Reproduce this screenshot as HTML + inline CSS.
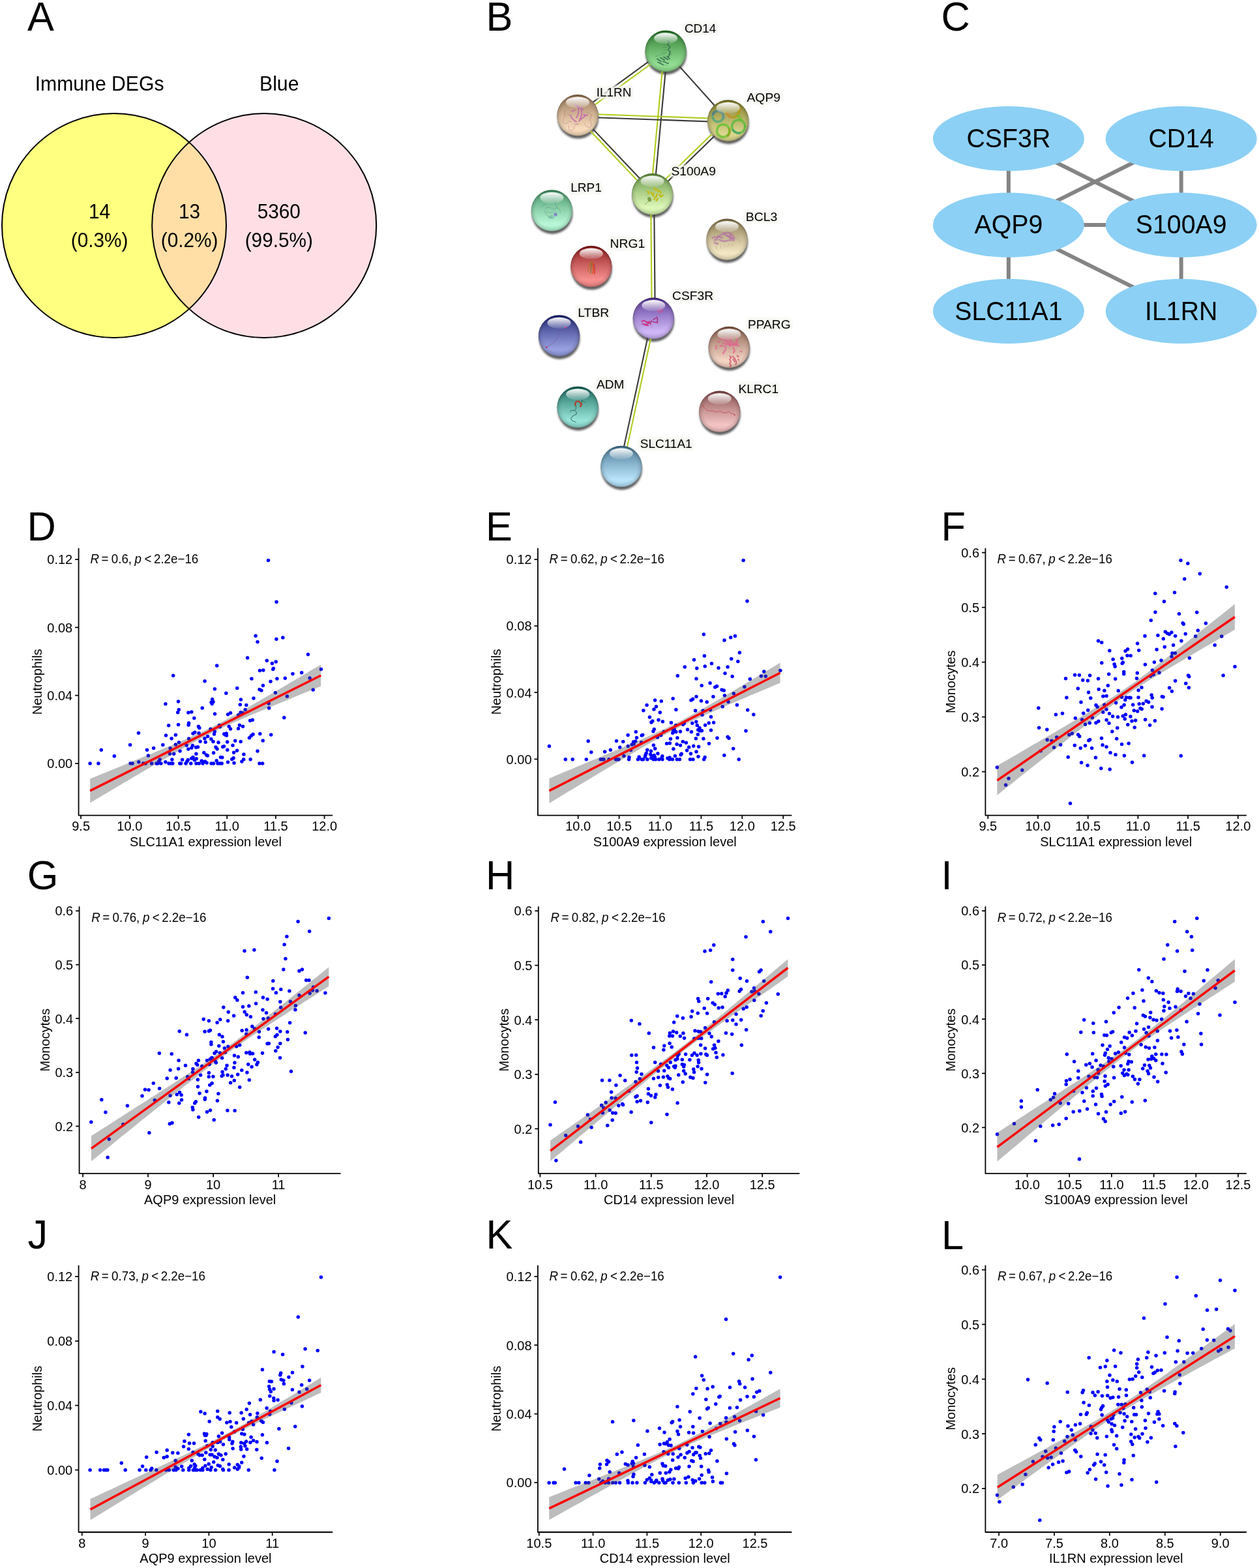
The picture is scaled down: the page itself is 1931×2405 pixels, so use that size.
<!DOCTYPE html>
<html lang="en"><head><meta charset="utf-8"><title>Immune DEGs: Venn diagram, PPI networks and correlation plots</title>
<style>html,body{margin:0;padding:0;background:#fff}body{width:1931px;height:2405px;overflow:hidden}svg{display:block}text{font-family:"Liberation Sans", Arial, Helvetica, sans-serif;fill:#000}</style>
</head><body>
<svg xmlns="http://www.w3.org/2000/svg" width="1931" height="2405" viewBox="0 0 1931 2405">
<rect width="1931" height="2405" fill="#fff"/>
<defs>
<clipPath id="nc"><circle r="30.7"/></clipPath>
<filter id="sh" x="-30%" y="-30%" width="160%" height="160%"><feGaussianBlur stdDeviation="1.7"/></filter>
<filter id="hb" x="-20%" y="-60%" width="140%" height="220%"><feGaussianBlur stdDeviation="2.2"/></filter>
<linearGradient id="hl" x1="0" y1="0" x2="0" y2="1"><stop offset="0" stop-color="#fff" stop-opacity="0.97"/><stop offset="0.25" stop-color="#fff" stop-opacity="0.8"/><stop offset="1" stop-color="#fff" stop-opacity="0.12"/></linearGradient>
<radialGradient id="rim" cx="0.5" cy="0.5" r="0.5"><stop offset="0.78" stop-color="#000" stop-opacity="0"/><stop offset="0.93" stop-color="#000" stop-opacity="0.1"/><stop offset="1" stop-color="#000" stop-opacity="0.26"/></radialGradient>
<linearGradient id="g0" x1="0" y1="0" x2="0" y2="1"><stop offset="0" stop-color="#1f6e22"/><stop offset="0.1" stop-color="#39873b"/><stop offset="0.45" stop-color="#67b468"/><stop offset="0.82" stop-color="#93df93"/><stop offset="1" stop-color="#85d185"/></linearGradient>
<linearGradient id="g1" x1="0" y1="0" x2="0" y2="1"><stop offset="0" stop-color="#8a6848"/><stop offset="0.1" stop-color="#a28262"/><stop offset="0.45" stop-color="#ceb091"/><stop offset="0.82" stop-color="#f8dcbe"/><stop offset="1" stop-color="#ebceb0"/></linearGradient>
<linearGradient id="g2" x1="0" y1="0" x2="0" y2="1"><stop offset="0" stop-color="#76741e"/><stop offset="0.1" stop-color="#8c8a37"/><stop offset="0.45" stop-color="#b5b265"/><stop offset="0.82" stop-color="#dcd890"/><stop offset="1" stop-color="#d0cc82"/></linearGradient>
<linearGradient id="g3" x1="0" y1="0" x2="0" y2="1"><stop offset="0" stop-color="#5a8a3a"/><stop offset="0.1" stop-color="#77a256"/><stop offset="0.45" stop-color="#abce88"/><stop offset="0.82" stop-color="#ddf8b8"/><stop offset="1" stop-color="#cdeba9"/></linearGradient>
<linearGradient id="g4" x1="0" y1="0" x2="0" y2="1"><stop offset="0" stop-color="#3a8a5a"/><stop offset="0.1" stop-color="#56a276"/><stop offset="0.45" stop-color="#88cea8"/><stop offset="0.82" stop-color="#b8f8d8"/><stop offset="1" stop-color="#a9ebc9"/></linearGradient>
<linearGradient id="g5" x1="0" y1="0" x2="0" y2="1"><stop offset="0" stop-color="#7a6a40"/><stop offset="0.1" stop-color="#95865d"/><stop offset="0.45" stop-color="#c6b892"/><stop offset="0.82" stop-color="#f4e8c4"/><stop offset="1" stop-color="#e5d9b4"/></linearGradient>
<linearGradient id="g6" x1="0" y1="0" x2="0" y2="1"><stop offset="0" stop-color="#7e0c0c"/><stop offset="0.1" stop-color="#992929"/><stop offset="0.45" stop-color="#ca5e5e"/><stop offset="0.82" stop-color="#f89090"/><stop offset="1" stop-color="#e98080"/></linearGradient>
<linearGradient id="g7" x1="0" y1="0" x2="0" y2="1"><stop offset="0" stop-color="#4a2a8a"/><stop offset="0.1" stop-color="#6749a2"/><stop offset="0.45" stop-color="#9d82ce"/><stop offset="0.82" stop-color="#d0b8f8"/><stop offset="1" stop-color="#c0a7eb"/></linearGradient>
<linearGradient id="g8" x1="0" y1="0" x2="0" y2="1"><stop offset="0" stop-color="#141a6a"/><stop offset="0.1" stop-color="#313784"/><stop offset="0.45" stop-color="#666db3"/><stop offset="0.82" stop-color="#98a0e0"/><stop offset="1" stop-color="#8890d2"/></linearGradient>
<linearGradient id="g9" x1="0" y1="0" x2="0" y2="1"><stop offset="0" stop-color="#7a5040"/><stop offset="0.1" stop-color="#956d5d"/><stop offset="0.45" stop-color="#c6a292"/><stop offset="0.82" stop-color="#f4d4c4"/><stop offset="1" stop-color="#e5c4b4"/></linearGradient>
<linearGradient id="g10" x1="0" y1="0" x2="0" y2="1"><stop offset="0" stop-color="#0a5a50"/><stop offset="0.1" stop-color="#29786e"/><stop offset="0.45" stop-color="#62b0a4"/><stop offset="0.82" stop-color="#98e4d8"/><stop offset="1" stop-color="#87d3c8"/></linearGradient>
<linearGradient id="g11" x1="0" y1="0" x2="0" y2="1"><stop offset="0" stop-color="#7a4040"/><stop offset="0.1" stop-color="#955d5d"/><stop offset="0.45" stop-color="#c69292"/><stop offset="0.82" stop-color="#f4c4c4"/><stop offset="1" stop-color="#e5b4b4"/></linearGradient>
<linearGradient id="g12" x1="0" y1="0" x2="0" y2="1"><stop offset="0" stop-color="#3d6a88"/><stop offset="0.1" stop-color="#5885a1"/><stop offset="0.45" stop-color="#8ab6cf"/><stop offset="0.82" stop-color="#b9e4fa"/><stop offset="1" stop-color="#aad5ec"/></linearGradient>
</defs>
<g id="venn">
<circle cx="175" cy="346" r="172" fill="#ffff80"/>
<circle cx="405.2" cy="346" r="172" fill="#ffc0cb" fill-opacity="0.5"/>
<circle cx="175" cy="346" r="172" fill="none" stroke="#000" stroke-width="2"/>
<circle cx="405.2" cy="346" r="172" fill="none" stroke="#000" stroke-width="2"/>
<g font-size="30.2" text-anchor="middle">
<text transform="translate(152.6 139.3) scale(1 1.03)">Immune DEGs</text>
<text transform="translate(428.2 139.3) scale(1 1.03)">Blue</text>
</g><g font-size="29.8" text-anchor="middle">
<text transform="translate(152.6 335.2) scale(1 1.038)">14</text>
<text transform="translate(152.6 378.9) scale(1 1.038)">(0.3%)</text>
<text transform="translate(290.6 335.2) scale(1 1.038)">13</text>
<text transform="translate(290.6 378.9) scale(1 1.038)">(0.2%)</text>
<text transform="translate(427.8 335.2) scale(1 1.038)">5360</text>
<text transform="translate(427.8 378.9) scale(1 1.038)">(99.5%)</text>
</g></g>
<g id="ppi">
<circle cx="1021.7" cy="83" r="31.4" fill="#1a1a1a" fill-opacity="0.7" filter="url(#sh)"/>
<circle cx="886.6" cy="181.4" r="31.4" fill="#1a1a1a" fill-opacity="0.7" filter="url(#sh)"/>
<circle cx="1117.3" cy="189.6" r="31.4" fill="#1a1a1a" fill-opacity="0.7" filter="url(#sh)"/>
<circle cx="1001.2" cy="302.3" r="31.4" fill="#1a1a1a" fill-opacity="0.7" filter="url(#sh)"/>
<circle cx="847" cy="327.5" r="31.4" fill="#1a1a1a" fill-opacity="0.7" filter="url(#sh)"/>
<circle cx="1115.6" cy="371.8" r="31.4" fill="#1a1a1a" fill-opacity="0.7" filter="url(#sh)"/>
<circle cx="907.4" cy="413.2" r="31.4" fill="#1a1a1a" fill-opacity="0.7" filter="url(#sh)"/>
<circle cx="1002.9" cy="492.8" r="31.4" fill="#1a1a1a" fill-opacity="0.7" filter="url(#sh)"/>
<circle cx="858.1" cy="519.5" r="31.4" fill="#1a1a1a" fill-opacity="0.7" filter="url(#sh)"/>
<circle cx="1118.8" cy="537.1" r="31.4" fill="#1a1a1a" fill-opacity="0.7" filter="url(#sh)"/>
<circle cx="886.7" cy="629" r="31.4" fill="#1a1a1a" fill-opacity="0.7" filter="url(#sh)"/>
<circle cx="1104.3" cy="635.8" r="31.4" fill="#1a1a1a" fill-opacity="0.7" filter="url(#sh)"/>
<circle cx="953.5" cy="720" r="31.4" fill="#1a1a1a" fill-opacity="0.7" filter="url(#sh)"/>
<g fill="none" stroke-width="2.1">
<line x1="887.5" y1="178.8" x2="1022.6" y2="80.4" stroke="#afcd1f"/>
<line x1="884.5" y1="174.8" x2="1019.6" y2="76.4" stroke="#3a3a3a"/>
<line x1="1018.6" y1="78.2" x2="998.1" y2="297.5" stroke="#afcd1f"/>
<line x1="1023.6" y1="78.6" x2="1003.1" y2="297.9" stroke="#3a3a3a"/>
<line x1="1021.1" y1="78.4" x2="1116.7" y2="185" stroke="#3a3a3a"/>
<line x1="886.1" y1="174.3" x2="1116.8" y2="182.5" stroke="#afcd1f"/>
<line x1="885.9" y1="179.3" x2="1116.6" y2="187.5" stroke="#3a3a3a"/>
<line x1="884.2" y1="178.5" x2="998.8" y2="299.4" stroke="#afcd1f"/>
<line x1="887.8" y1="175.1" x2="1002.4" y2="296" stroke="#3a3a3a"/>
<line x1="1115" y1="183.2" x2="998.9" y2="295.9" stroke="#afcd1f"/>
<line x1="1118.4" y1="186.8" x2="1002.3" y2="299.5" stroke="#3a3a3a"/>
<line x1="998.1" y1="297.7" x2="999.8" y2="488.2" stroke="#afcd1f"/>
<line x1="1003.1" y1="297.7" x2="1004.8" y2="488.2" stroke="#3a3a3a"/>
<line x1="1004.7" y1="488.7" x2="955.3" y2="715.9" stroke="#afcd1f"/>
<line x1="999.9" y1="487.7" x2="950.5" y2="714.9" stroke="#3a3a3a"/>
</g>
<g transform="translate(1021.1 78.4)">
<circle r="31.7" fill="url(#g0)"/>
<circle r="31.7" fill="url(#rim)"/>
<g fill="none" stroke-linecap="round" stroke-linejoin="round"><g stroke='#2c5a4a' opacity='.72'><path d='M3 -16q4 2 1 4q-3 2 1 4q3 2 0 4q-3 2 1 4q2 2 -1 4' stroke-width='1.7'/><path d='M-13 12l6 4M-8 10l6 4M-3 9l6 4M2 8l4 4M-12 17l8 4M-4 16l8 3M6 5l-2 4' stroke-width='1.9'/><path d='M-4 -10h5M-4 -6h6M-3 -2h5M-5 2h6M-9 6l8 -2M-16 8l5 -1M7 0l1 6M-2 21l5 1' stroke-width='.6' opacity='.7'/></g></g>
<ellipse cy="-19.6" rx="18" ry="8.6" fill="url(#hl)"/>
</g>
<g transform="translate(886 176.8)">
<circle r="31.7" fill="url(#g1)"/>
<circle r="31.7" fill="url(#rim)"/>
<g fill="none" stroke-linecap="round" stroke-linejoin="round"><g><path d='M-5 -17C2 -14 4 -6 -2 4M-2 -15C8 -10 8 -2 3 6M-9 -6l5 -2M-11 0C-9 6 -6 8 -2 10M12 1C8 3 5 6 2 9M9 -1l6 1M6 -13l2 5' stroke='#c05fb0' stroke-width='1.7' opacity='.85'/><path d='M-20 -8v10q-4 4 -2 9q3 4 6 0q3 -3 6 -1M-14 16q0 8 5 8q3 -2 3 -6q5 -6 8 -4M10 12q4 8 9 6q3 -2 1 -8q-2 -6 2 -10M-6 12q4 4 8 0M14 -4q6 0 7 5M-16 -2l4 2' stroke='#a05a72' stroke-width='.6' opacity='.65'/></g></g>
<ellipse cy="-19.6" rx="18" ry="8.6" fill="url(#hl)"/>
</g>
<g transform="translate(1116.7 185)">
<circle r="31.7" fill="url(#g2)"/>
<circle r="31.7" fill="url(#rim)"/>
<g fill="none" stroke-linecap="round" stroke-linejoin="round"><g stroke-width='3.6' stroke-dasharray='1.2 .5' stroke-linecap='butt' opacity='.9' clip-path='url(#nc)'><circle cx='-15.5' cy='-6.5' r='8.2' stroke='#35a07e'/><path d='M-23.5 -8.5a8.2 8.2 0 0 1 6 -6' stroke='#4a6e9c'/><path d='M-17 -14.5q6 -1 9 5q2 3 1 7' stroke='#6f86a8' opacity='.8'/><path d='M-2 -13q2 6 6 7.5q6 1.5 10 -3q3 -5 5 -11' stroke='#d0841e'/><path d='M6 -5.5q6 1 9 -4q2 -4 2 -7' stroke='#a8a218'/><circle cx='-7.5' cy='15.5' r='9.6' stroke='#4cc21e'/><path d='M1.2 11.5a9.6 9.6 0 0 1 -3 13' stroke='#8c9a10'/><circle cx='16' cy='9' r='10' stroke='#3eba30'/><path d='M7 13.5a10 10 0 0 0 12 5' stroke='#2e9a68'/><path d='M14 -8q5 4 8 9' stroke='#5cc424'/></g></g>
<ellipse cy="-19.6" rx="18" ry="8.6" fill="url(#hl)"/>
</g>
<g transform="translate(1000.6 297.7)">
<circle r="31.7" fill="url(#g3)"/>
<circle r="31.7" fill="url(#rim)"/>
<g fill="none" stroke-linecap="round" stroke-linejoin="round"><g><path d='M3 -9l2 3M7 -7l2 3M11 -5l2 3M-7 -4l2 3M-2 -3l2 3M2 -1l-1 4M7 0l-1 4M11 1l2 3l3 -2M4 5l-1 3M8 7l-2 3' stroke='#c4bc1c' stroke-width='2.6'/><path d='M-10 -6l3 5l-2 4M-6 -10l4 3l4 -2M13 8l2 2' stroke='#9aa848' stroke-width='.6' opacity='.7'/><ellipse cx='-4.5' cy='8' rx='2.8' ry='3.8' transform='rotate(-20 -4.5 8)' fill='#6a8a2c' stroke='none' opacity='.75'/><path d='M-6 11q-3 2 -5 5' stroke='#7a9a40' stroke-width='.8'/></g></g>
<ellipse cy="-19.6" rx="18" ry="8.6" fill="url(#hl)"/>
</g>
<g transform="translate(846.4 322.9)">
<circle r="31.7" fill="url(#g4)"/>
<circle r="31.7" fill="url(#rim)"/>
<g fill="none" stroke-linecap="round" stroke-linejoin="round"><g><path d='M-16 -5l4 -4l4 1M-10 -3q5 -4 10 0q4 3 8 -2M4 -14l2 6l3 5M-8 2q6 4 12 -1M-10 5l5 4l6 -2M-12 0l3 4M8 -4l4 2l1 5' stroke='#4a8a80' stroke-width='.7' opacity='.65'/><circle cx='-3' cy='10.5' r='1.8' stroke='#3a8a6a' stroke-width='.6'/><circle cx='1' cy='10.5' r='1.8' stroke='#3a8a9a' stroke-width='.6'/><circle cx='5.6' cy='6' r='2.7' fill='#8080c4' stroke='none' opacity='.9'/><path d='M-7 5l1 1M12 -5l1 1M12 -2l1 1' stroke='#a8d840' stroke-width='1'/></g></g>
<ellipse cy="-19.6" rx="18" ry="8.6" fill="url(#hl)"/>
</g>
<g transform="translate(1115 367.2)">
<circle r="31.7" fill="url(#g5)"/>
<circle r="31.7" fill="url(#rim)"/>
<g fill="none" stroke-linecap="round" stroke-linejoin="round"><g><path d='M-23 -2q4 -3 8 0q6 -6 12 -8q6 -2 10 2q4 4 5 8M-19 4q2 4 6 2M-12 0q6 4 12 2q6 -2 12 0M-6 -9l16 8M-20 1l6 -1M-15 -5l9 3M-2 -7l8 6M4 -9l4 9' stroke='#b26aa8' stroke-width='2.6' stroke-dasharray='1.5 .55' stroke-linecap='butt' opacity='.85'/><path d='M-16 10q-2 4 2 6M-9 9q-2 4 1 5M-3 8q-2 3 0 4M3 7l-2 4M9 6l-2 4M14 -4l6 8' stroke='#a08080' stroke-width='.6' opacity='.6'/></g></g>
<ellipse cy="-19.6" rx="18" ry="8.6" fill="url(#hl)"/>
</g>
<g transform="translate(906.8 408.6)">
<circle r="31.7" fill="url(#g6)"/>
<circle r="31.7" fill="url(#rim)"/>
<g fill="none" stroke-linecap="round" stroke-linejoin="round"><g opacity='.9'><path d='M-1 -6q-3 6 -4 13' stroke='#b07020' stroke-width='1.4'/><path d='M1 -7q-1 8 -2 18' stroke='#6a7a20' stroke-width='1.2'/><path d='M2 -6q2 8 0 17' stroke='#d05010' stroke-width='1.4'/><path d='M4 -3q2 8 1 14' stroke='#e03020' stroke-width='1.6'/><path d='M6 -3q1 2 0 4' stroke='#9060a0' stroke-width='1'/><path d='M5 12q1 6 4 8' stroke='#e87070' stroke-width='.6'/><circle cx='2' cy='-15' r='.8' fill='#8a70c8' stroke='none'/></g></g>
<ellipse cy="-19.6" rx="18" ry="8.6" fill="url(#hl)"/>
</g>
<g transform="translate(1002.3 488.2)">
<circle r="31.7" fill="url(#g7)"/>
<circle r="31.7" fill="url(#rim)"/>
<g fill="none" stroke-linecap="round" stroke-linejoin="round"><g><path d='M-18 5q3 -3 6 0q3 2 6 0M-17 8q4 3 8 0q3 -1 5 1M-14 10l6 1' stroke='#d02070' stroke-width='1.9' opacity='.85'/><path d='M5 -2q2 4 1 9M0 2l3 -2M-1 5q3 2 6 1M-3 4l-2 3' stroke='#b01868' stroke-width='1.6' opacity='.85'/><path d='M6 -10l3 -6M9 -8l3 -6M12 -9l2 -4' stroke='#e04888' stroke-width='1.4' opacity='.8'/><path d='M-20 9a2 2 0 1 0 .1 0M-3 11a1.6 1.6 0 1 0 .1 0M7 9l2 3M9 4l2 4' stroke='#b070b0' stroke-width='.5' opacity='.7'/></g></g>
<ellipse cy="-19.6" rx="18" ry="8.6" fill="url(#hl)"/>
</g>
<g transform="translate(857.5 514.9)">
<circle r="31.7" fill="url(#g8)"/>
<circle r="31.7" fill="url(#rim)"/>
<g fill="none" stroke-linecap="round" stroke-linejoin="round"><g><path d='M-19 17q4 -1 6 -4q4 -1 6 -4q3 -2 4 -5q2 -3 3 -6q1 -5 5 -7q3 -2 6 -3' stroke='#7a5a9a' stroke-width='1.6' stroke-dasharray='1 .8' stroke-linecap='butt' opacity='.6'/><path d='M12 -8q4 2 6 -2M12 -5q3 3 6 2M17 -10l4 1' stroke='#8060a0' stroke-width='.6' opacity='.6'/><circle cx='10.2' cy='-12.6' r='1.4' fill='#c03070' stroke='none'/><circle cx='-19.2' cy='17.6' r='1.2' fill='#c02060' stroke='none'/></g></g>
<ellipse cy="-19.6" rx="18" ry="8.6" fill="url(#hl)"/>
</g>
<g transform="translate(1118.2 532.5)">
<circle r="31.7" fill="url(#g9)"/>
<circle r="31.7" fill="url(#rim)"/>
<g fill="none" stroke-linecap="round" stroke-linejoin="round"><g stroke-linecap='butt' clip-path='url(#nc)'><path d='M-15 -15l4 3l4 -1l4 3l4 -1M-4 -17l3 2M5 -18l-1 4l-3 4M12 -16v14M-18 -9l4 1M-10 -7q6 4 12 2q6 2 12 -2M-20 -3q1 3 0 6M-14 -1q3 -3 6 0M-6 -2q2 4 -1 8l-3 5M0 -4q6 2 10 0l6 2M6 0l3 6l-3 3M17 6l3 1M-8 -11l6 4l5 -1M2 -10l5 5M8 -8l3 6M-2 -6l4 5' stroke='#e2628e' stroke-width='2.6' stroke-dasharray='1.7 .6' opacity='.9'/><path d='M1 13l2 3l-2 3l2 3l-2 3l2 3l-2 3M5 14q4 3 6 8q1 3 -2 5M12 13l3 2M14 18l1 3M6 18l3 5' stroke='#c84262' stroke-width='2.2' stroke-dasharray='1.6 .6' opacity='.88'/></g></g>
<ellipse cy="-19.6" rx="18" ry="8.6" fill="url(#hl)"/>
</g>
<g transform="translate(886.1 624.4)">
<circle r="31.7" fill="url(#g10)"/>
<circle r="31.7" fill="url(#rim)"/>
<g fill="none" stroke-linecap="round" stroke-linejoin="round"><g><path d='M12 -7l-6 -4l1 5' stroke='#2a5a52' stroke-width='.7'/><path d='M-4 -3q0 -6 4 -6q4 1 6 5l-2 3' stroke='#b0402e' stroke-width='2.4'/><path d='M-3 -2q1 3 0 5q-1 2 -3 2q-4 -1 -6 2M-4 6q3 1 2 5q-4 1 -7 4q-3 4 1 6q2 1 5 2' stroke='#2a5a52' stroke-width='.9'/></g></g>
<ellipse cy="-19.6" rx="18" ry="8.6" fill="url(#hl)"/>
</g>
<g transform="translate(1103.7 631.2)">
<circle r="31.7" fill="url(#g11)"/>
<circle r="31.7" fill="url(#rim)"/>
<g fill="none" stroke-linecap="round" stroke-linejoin="round"><g><path d='M-26.2 -8.3l3.9 3l3.9 4.1l8.2 .2l5.8 2.2l4.9 -2.2l4.4 3l5.3 0l3.4 -2.1l4.4 3l3.8 .7l1.2 2.2' stroke='#c0505e' stroke-width='.9'/><circle cx='23' cy='5.4' r='1' fill='#c0405a' stroke='none'/><path d='M-26.5 -8.5l2 -.8' stroke='#c0505e' stroke-width='1.2'/></g></g>
<ellipse cy="-19.6" rx="18" ry="8.6" fill="url(#hl)"/>
</g>
<g transform="translate(952.9 715.4)">
<circle r="31.7" fill="url(#g12)"/>
<circle r="31.7" fill="url(#rim)"/>
<ellipse cy="-19.6" rx="18" ry="8.6" fill="url(#hl)"/>
</g>
<g font-size="19">
<text transform="translate(1049.9 49.7) scale(1 1.0)" textLength="48.5" lengthAdjust="spacingAndGlyphs" fill="#f3f3ee" stroke="#f3f3ee" stroke-width="7" stroke-linejoin="round" filter="url(#hb)" aria-hidden="true">CD14</text>
<text transform="translate(914.8 148.1) scale(1 1.0)" textLength="53.5" lengthAdjust="spacingAndGlyphs" fill="#f3f3ee" stroke="#f3f3ee" stroke-width="7" stroke-linejoin="round" filter="url(#hb)" aria-hidden="true">IL1RN</text>
<text transform="translate(1145.5 156.3) scale(1 1.0)" textLength="51.5" lengthAdjust="spacingAndGlyphs" fill="#f3f3ee" stroke="#f3f3ee" stroke-width="7" stroke-linejoin="round" filter="url(#hb)" aria-hidden="true">AQP9</text>
<text transform="translate(1029.4 269) scale(1 1.0)" textLength="68.5" lengthAdjust="spacingAndGlyphs" fill="#f3f3ee" stroke="#f3f3ee" stroke-width="7" stroke-linejoin="round" filter="url(#hb)" aria-hidden="true">S100A9</text>
<text transform="translate(875.2 294.2) scale(1 1.0)" textLength="47.5" lengthAdjust="spacingAndGlyphs" fill="#f3f3ee" stroke="#f3f3ee" stroke-width="7" stroke-linejoin="round" filter="url(#hb)" aria-hidden="true">LRP1</text>
<text transform="translate(1143.8 338.5) scale(1 1.0)" textLength="48.5" lengthAdjust="spacingAndGlyphs" fill="#f3f3ee" stroke="#f3f3ee" stroke-width="7" stroke-linejoin="round" filter="url(#hb)" aria-hidden="true">BCL3</text>
<text transform="translate(935.6 379.9) scale(1 1.0)" textLength="53.5" lengthAdjust="spacingAndGlyphs" fill="#f3f3ee" stroke="#f3f3ee" stroke-width="7" stroke-linejoin="round" filter="url(#hb)" aria-hidden="true">NRG1</text>
<text transform="translate(1031.1 459.5) scale(1 1.0)" textLength="63" lengthAdjust="spacingAndGlyphs" fill="#f3f3ee" stroke="#f3f3ee" stroke-width="7" stroke-linejoin="round" filter="url(#hb)" aria-hidden="true">CSF3R</text>
<text transform="translate(886.3 486.2) scale(1 1.0)" textLength="48" lengthAdjust="spacingAndGlyphs" fill="#f3f3ee" stroke="#f3f3ee" stroke-width="7" stroke-linejoin="round" filter="url(#hb)" aria-hidden="true">LTBR</text>
<text transform="translate(1147 503.8) scale(1 1.0)" textLength="65.5" lengthAdjust="spacingAndGlyphs" fill="#f3f3ee" stroke="#f3f3ee" stroke-width="7" stroke-linejoin="round" filter="url(#hb)" aria-hidden="true">PPARG</text>
<text transform="translate(914.9 595.7) scale(1 1.0)" textLength="42.5" lengthAdjust="spacingAndGlyphs" fill="#f3f3ee" stroke="#f3f3ee" stroke-width="7" stroke-linejoin="round" filter="url(#hb)" aria-hidden="true">ADM</text>
<text transform="translate(1132.5 602.5) scale(1 1.0)" textLength="61.5" lengthAdjust="spacingAndGlyphs" fill="#f3f3ee" stroke="#f3f3ee" stroke-width="7" stroke-linejoin="round" filter="url(#hb)" aria-hidden="true">KLRC1</text>
<text transform="translate(981.7 686.7) scale(1 1.0)" textLength="80" lengthAdjust="spacingAndGlyphs" fill="#f3f3ee" stroke="#f3f3ee" stroke-width="7" stroke-linejoin="round" filter="url(#hb)" aria-hidden="true">SLC11A1</text>
<text transform="translate(1049.9 49.7) scale(1 1.0)" textLength="48.5" lengthAdjust="spacingAndGlyphs">CD14</text>
<text transform="translate(914.8 148.1) scale(1 1.0)" textLength="53.5" lengthAdjust="spacingAndGlyphs">IL1RN</text>
<text transform="translate(1145.5 156.3) scale(1 1.0)" textLength="51.5" lengthAdjust="spacingAndGlyphs">AQP9</text>
<text transform="translate(1029.4 269) scale(1 1.0)" textLength="68.5" lengthAdjust="spacingAndGlyphs">S100A9</text>
<text transform="translate(875.2 294.2) scale(1 1.0)" textLength="47.5" lengthAdjust="spacingAndGlyphs">LRP1</text>
<text transform="translate(1143.8 338.5) scale(1 1.0)" textLength="48.5" lengthAdjust="spacingAndGlyphs">BCL3</text>
<text transform="translate(935.6 379.9) scale(1 1.0)" textLength="53.5" lengthAdjust="spacingAndGlyphs">NRG1</text>
<text transform="translate(1031.1 459.5) scale(1 1.0)" textLength="63" lengthAdjust="spacingAndGlyphs">CSF3R</text>
<text transform="translate(886.3 486.2) scale(1 1.0)" textLength="48" lengthAdjust="spacingAndGlyphs">LTBR</text>
<text transform="translate(1147 503.8) scale(1 1.0)" textLength="65.5" lengthAdjust="spacingAndGlyphs">PPARG</text>
<text transform="translate(914.9 595.7) scale(1 1.0)" textLength="42.5" lengthAdjust="spacingAndGlyphs">ADM</text>
<text transform="translate(1132.5 602.5) scale(1 1.0)" textLength="61.5" lengthAdjust="spacingAndGlyphs">KLRC1</text>
<text transform="translate(981.7 686.7) scale(1 1.0)" textLength="80" lengthAdjust="spacingAndGlyphs">SLC11A1</text>
</g></g>
<g id="cyto">
<g stroke="#848484" stroke-width="6">
<line x1="1546.9" y1="212.7" x2="1546.9" y2="345.1"/>
<line x1="1811.7" y1="212.7" x2="1811.7" y2="345.1"/>
<line x1="1546.9" y1="212.7" x2="1811.7" y2="345.1"/>
<line x1="1811.7" y1="212.7" x2="1546.9" y2="345.1"/>
<line x1="1546.9" y1="345.1" x2="1811.7" y2="345.1"/>
<line x1="1546.9" y1="345.1" x2="1546.9" y2="477.3"/>
<line x1="1811.7" y1="345.1" x2="1811.7" y2="477.3"/>
<line x1="1546.9" y1="345.1" x2="1811.7" y2="477.3"/>
</g>
<ellipse cx="1546.9" cy="212.7" rx="116" ry="49.6" fill="#8cd0f5"/>
<ellipse cx="1811.7" cy="212.7" rx="116" ry="49.6" fill="#8cd0f5"/>
<ellipse cx="1546.9" cy="345.1" rx="116" ry="49.6" fill="#8cd0f5"/>
<ellipse cx="1811.7" cy="345.1" rx="116" ry="49.6" fill="#8cd0f5"/>
<ellipse cx="1546.9" cy="477.3" rx="116" ry="49.6" fill="#8cd0f5"/>
<ellipse cx="1811.7" cy="477.3" rx="116" ry="49.6" fill="#8cd0f5"/>
<g font-size="39.3" text-anchor="middle">
<text transform="translate(1546.9 225.9) scale(1 1.038)">CSF3R</text>
<text transform="translate(1811.7 225.9) scale(1 1.038)">CD14</text>
<text transform="translate(1546.9 358.3) scale(1 1.038)">AQP9</text>
<text transform="translate(1811.7 358.3) scale(1 1.038)">S100A9</text>
<text transform="translate(1546.9 490.5) scale(1 1.038)">SLC11A1</text>
<text transform="translate(1811.7 490.5) scale(1 1.038)">IL1RN</text>
</g></g>
<g id="plotD">
<path d="M138.1 1171h0M150.9 1171h0M200.1 1171h0M203 1171h0M219.7 1171h0M223.2 1171h0M232.7 1171h0M240 1171h0M241.7 1171h0M246.9 1171h0M259 1171h0M261.9 1171h0M264.8 1171h0M275.8 1171h0M277.5 1171h0M285 1171h0M292.8 1171h0M300.9 1171h0M305.2 1171h0M311 1171h0M265.7 1036.3h0M314.1 1044.7h0M273.5 1076h0M253.9 1079.8h0M310.2 1086.1h0M274.3 1088.5h0M272.7 1092.8h0M288.8 1093.1h0M293.8 1091.9h0M297.8 1101.6h0M289.6 1109h0M289.1 1112.1h0M258.6 1112.8h0M273.5 1111.4h0M304.4 1114.2h0M305.8 1116.5h0M212.5 1124.2h0M254.5 1127.9h0M269.4 1127.3h0M263.1 1132.7h0M296 1124.9h0M298.8 1123.2h0M305 1124.6h0M289.6 1133h0M274.4 1138.8h0M269.4 1142.1h0M249.8 1142.4h0M199.6 1142.5h0M307.1 1137.3h0M313.9 1132.7h0M286.2 1143.2h0M295.4 1143.4h0M293.9 1147.1h0M300.6 1146.2h0M303.5 1145.7h0M288.8 1149.1h0M261.1 1147.7h0M235.6 1147.4h0M225.5 1150.2h0M155.3 1150.3h0M276.1 1152.1h0M260.5 1156.3h0M266.7 1156.3h0M300.9 1156.3h0M312.8 1154.4h0M227.4 1159h0M175.3 1159.8h0M245.2 1165h0M243.4 1167.9h0M263.9 1165h0M279.6 1165.2h0M288.3 1165.6h0M286.8 1167.9h0M293.7 1163.3h0M296 1161.5h0M298.3 1165.8h0M301.2 1163.8h0M309.3 1167h0M314.5 1167.9h0M253.8 1168.8h0M212.8 1168.8h0M317.1 1169.9h0M324.1 1171h0M327.5 1171h0M333.9 1171h0M337.4 1171h0M340.2 1171h0M349.5 1169h0M359 1170.2h0M398 1171h0M402.6 1171h0M332.2 1166.7h0M370.9 1167.9h0M373.7 1164.7h0M384.1 1164.8h0M355.8 1164.4h0M358.1 1162.7h0M338.5 1161.5h0M340.8 1161.8h0M316.6 1158.1h0M318.3 1159h0M327.6 1154.7h0M358.6 1154.3h0M363.5 1151.3h0M373.9 1156.9h0M395 1151.9h0M348.7 1150.2h0M331 1145.9h0M333 1148.8h0M341.7 1145.4h0M343.4 1144.8h0M357 1143.3h0M315.2 1138.3h0M327 1137.6h0M335 1138.7h0M348.6 1138.1h0M360.7 1136.2h0M369.2 1137.4h0M403.2 1136.1h0M323.8 1133.5h0M318.6 1129.5h0M382.4 1131.8h0M385.3 1128.4h0M388 1126.3h0M398.8 1125.5h0M415.7 1127.1h0M328.5 1126h0M329.3 1121.9h0M343.7 1125.7h0M345.4 1126.9h0M347.2 1124.9h0M347.5 1128h0M322.9 1118.2h0M336.4 1112.4h0M337.4 1114.7h0M351.2 1114.2h0M353.5 1118h0M365.5 1117.6h0M367.4 1112.2h0M372.5 1114.3h0M383.6 1105.3h0M387.3 1104.3h0M435.8 1100.8h0M329.5 1095h0M349.5 1095.7h0M353.5 1093.6h0M365.7 1096.8h0M369.1 1092.8h0M372 1093.4h0M376.2 1088.6h0M368.3 1080.7h0M377.8 1081.4h0M412.2 1078.9h0M412.6 1086.1h0M325.6 1072.6h0M324.1 1077.2h0M327 1076.6h0M325.2 1079.5h0M369.4 1072.9h0M389 1071h0M440.4 1067.9h0M346.8 1063.2h0M422.4 1062.4h0M329.4 1056.7h0M363.7 1055.4h0M398 1057.6h0M400.9 1058.9h0M480.2 1057.9h0M403.4 1051.5h0M415 1045.3h0M385.9 1041.1h0M424.9 1040.9h0M437.3 1040.3h0M475.1 1040h0M449 1033.6h0M462.7 1031.8h0M411.5 859.4h0M424 923.2h0M392.1 975.2h0M395 984.4h0M423.9 980.2h0M433.8 978.1h0M472.5 1003.7h0M379.6 1008.9h0M409.3 1013.3h0M423.2 1015h0M417.4 1017.5h0M332.7 1020.9h0M419.4 1025.2h0M418.8 1026.6h0M398.4 1028.6h0M403.8 1028.1h0M492.4 1026.4h0" stroke="#0000ff" stroke-width="5.5" stroke-linecap="round" fill="none"/>
<polygon points="138.2,1194.4 145.6,1191.4 152.9,1188.4 160.3,1185.4 167.7,1182.4 175.1,1179.4 182.4,1176.4 189.8,1173.4 197.2,1170.3 204.6,1167.3 211.9,1164.3 219.3,1161.3 226.7,1158.2 234.1,1155.2 241.4,1152.1 248.8,1149.1 256.2,1146 263.6,1142.9 270.9,1139.7 278.3,1136.6 285.7,1133.4 293.1,1130.1 300.4,1126.8 307.8,1123.4 315.2,1119.9 322.6,1116.4 329.9,1112.7 337.3,1108.8 344.7,1104.9 352.1,1100.9 359.4,1096.9 366.8,1092.7 374.2,1088.5 381.6,1084.3 388.9,1080.1 396.3,1075.8 403.7,1071.5 411.1,1067.2 418.4,1062.9 425.8,1058.6 433.2,1054.2 440.6,1049.9 447.9,1045.6 455.3,1041.2 462.7,1036.9 470.1,1032.5 477.4,1028.1 484.8,1023.8 492.2,1019.4 492.2,1052.6 484.8,1055.6 477.4,1058.6 470.1,1061.6 462.7,1064.6 455.3,1067.6 447.9,1070.7 440.6,1073.7 433.2,1076.7 425.8,1079.8 418.4,1082.8 411.1,1085.9 403.7,1088.9 396.3,1092 388.9,1095.1 381.6,1098.2 374.2,1101.4 366.8,1104.6 359.4,1107.8 352.1,1111.1 344.7,1114.5 337.3,1117.9 329.9,1121.5 322.6,1125.2 315.2,1129 307.8,1132.8 300.4,1136.8 293.1,1140.9 285.7,1145 278.3,1149.2 270.9,1153.4 263.6,1157.6 256.2,1161.9 248.8,1166.2 241.4,1170.5 234.1,1174.8 226.7,1179.1 219.3,1183.5 211.9,1187.8 204.6,1192.1 197.2,1196.5 189.8,1200.8 182.4,1205.2 175.1,1209.6 167.7,1213.9 160.3,1218.3 152.9,1222.7 145.6,1227 138.2,1231.4" fill="#4d4d4d" fill-opacity="0.37"/>
<line x1="138.2" y1="1212.9" x2="492.2" y2="1036.0" stroke="#ff0000" stroke-width="3.5"/>
<path d="M120.6 840.7V1250.6H510.2" fill="none" stroke="#000" stroke-width="1.8" stroke-linecap="butt" stroke-linejoin="round"/>
<path d="M115.2 858H120.6M115.2 962.3H120.6M115.2 1066.7H120.6M115.2 1171.1H120.6M124.1 1250.6V1256.1M198.8 1250.6V1256.1M273.5 1250.6V1256.1M348.2 1250.6V1256.1M422.9 1250.6V1256.1M497.6 1250.6V1256.1" fill="none" stroke="#000" stroke-width="1.75"/>
<g font-size="20">
<g text-anchor="end">
<text transform="translate(111.2 865.3) scale(1 1.038)">0.12</text>
<text transform="translate(111.2 969.6) scale(1 1.038)">0.08</text>
<text transform="translate(111.2 1074) scale(1 1.038)">0.04</text>
<text transform="translate(111.2 1178.4) scale(1 1.038)">0.00</text>
</g><g text-anchor="middle">
<text transform="translate(124.1 1274.2) scale(1 1.038)">9.5</text>
<text transform="translate(198.8 1274.2) scale(1 1.038)">10.0</text>
<text transform="translate(273.5 1274.2) scale(1 1.038)">10.5</text>
<text transform="translate(348.2 1274.2) scale(1 1.038)">11.0</text>
<text transform="translate(422.9 1274.2) scale(1 1.038)">11.5</text>
<text transform="translate(497.6 1274.2) scale(1 1.038)">12.0</text>
<text transform="translate(315.4 1297.8) scale(1 1.02)">SLC11A1 expression level</text>
<text transform="translate(63.5 1045.7) rotate(-90) scale(1 1.02)">Neutrophils</text>
</g></g>
<text transform="translate(138.4 864.2) scale(1 1.038)" font-size="18.75"><tspan font-style="italic">R</tspan><tspan x="17.1">=</tspan><tspan x="32.4">0.6,</tspan><tspan x="68.2" font-style="italic">p</tspan><tspan x="83">&lt;</tspan><tspan x="97.6">2.2e−16</tspan></text>
</g>
<g id="plotE">
<path d="M867.3 1164.7h0M878.2 1164.7h0M899.3 1164.7h0M921.3 1164.7h0M924.2 1164.7h0M925.9 1164.7h0M934 1164.7h0M944.4 1164.7h0M946.7 1164.7h0M949 1164.7h0M964.6 1164.7h0M978.5 1164.7h0M984.2 1164.7h0M986.6 1164.7h0M992.9 1164.7h0M1002.2 1164.7h0M1005.6 1164.7h0M1010.8 1164.7h0M1016 1164.7h0M965 1161.5h0M956.9 1159.5h0M980.2 1161h0M990 1158.1h0M989.4 1160.4h0M991.2 1155.2h0M992.7 1150.2h0M998.5 1152.1h0M997.5 1156.9h0M999.8 1159.2h0M998.7 1162.7h0M1003.3 1158.6h0M1004.5 1161.5h0M1008.9 1155.8h0M1015.8 1159.8h0M1014.9 1162.7h0M1004.7 1148.2h0M1002.4 1143.1h0M842.4 1144.4h0M902.2 1136.7h0M906.8 1153.8h0M927.7 1152.9h0M936.3 1150.3h0M950.7 1146.2h0M945.5 1136.5h0M955.7 1137.4h0M963.1 1127.6h0M975.3 1122.4h0M976.5 1131.5h0M984.2 1128h0M985.7 1127.2h0M971.5 1137.9h0M974.7 1136.9h0M969.2 1141.9h0M972.1 1141.1h0M963.2 1144.4h0M967.5 1150.6h0M983.7 1138.8h0M1003.3 1118.6h0M1001.9 1121.7h0M1008.5 1131.1h0M1013.7 1127.7h0M1018.3 1122.3h0M996.4 1100h0M1000.8 1106.1h0M999 1108h0M1010 1104.3h0M1016.4 1106.7h0M986.9 1089.7h0M992.1 1081.4h0M1003 1087.9h0M1006.5 1083.8h0M1012.3 1092.8h0M1004.6 1074h0M1014.3 1075.5h0M1026.8 1164.7h0M1031.4 1164.7h0M1038.3 1164.7h0M1042.4 1164.7h0M1058.5 1164.7h0M1062.9 1164.7h0M1079.7 1164.7h0M1133.2 1164.7h0M1023.9 1162.9h0M1027.1 1161.9h0M1035.4 1159.6h0M1044.1 1157.7h0M1045.2 1156.3h0M1059.5 1156h0M1071 1160.6h0M1081.1 1161.5h0M1068 1153.1h0M1110.8 1158.4h0M1032.9 1148.8h0M1053.6 1150.9h0M1056.7 1145.9h0M1063.7 1144.2h0M1071.6 1145.2h0M1124.7 1148.2h0M1022.5 1140.5h0M1027.3 1139.9h0M1038.1 1141.5h0M1043.5 1143.2h0M1047.3 1137.4h0M1052.4 1139.2h0M1087.5 1140.5h0M1028.5 1133.2h0M1038.9 1131.7h0M1067.4 1132.7h0M1078.9 1133h0M1100 1132.1h0M1116.1 1130.3h0M1118 1132.3h0M1070.3 1126.5h0M1031.8 1124.2h0M1036.8 1122.6h0M1043.4 1121.9h0M1060.4 1122.5h0M1054.5 1119.1h0M1034.3 1118.8h0M1032.5 1120.5h0M1070.7 1119.6h0M1073 1116.5h0M1073.3 1121.1h0M1076.4 1120.8h0M1090.5 1120.1h0M1144 1121.1h0M1069.3 1112.4h0M1081.6 1112.2h0M1047.6 1111.3h0M1049.3 1109.5h0M1061.8 1109.3h0M1067.8 1107h0M1087.2 1109h0M1094.6 1108.3h0M1029.4 1108.6h0M1036.6 1112.4h0M1090.5 1099.4h0M1077 1096.6h0M1155.8 1095.9h0M1066.6 1089.9h0M1078.2 1090.1h0M1089.5 1088.7h0M1036.9 1088.5h0M1146.7 1089h0M1108.2 1083.8h0M1130.4 1081.2h0M1117.1 1076.4h0M1084.2 1076.8h0M1075.5 1075.1h0M1060 1074h0M1062.6 1072.3h0M1032.2 1071.5h0M1068 1068.5h0M1093.9 1068.5h0M1111.4 1066.8h0M1125.3 1063.7h0M1141.9 1053.5h0M1107.1 1057.9h0M1110.3 1059.1h0M1096.7 1054.1h0M1099.5 1052.6h0M1076.2 1051.5h0M1089.1 1047.8h0M1150.3 1041.6h0M1068 1041h0M1167.4 1036.9h0M1174.3 1037.3h0M1123.2 1037.6h0M1039.3 1036.4h0M1112 1032.7h0M1171.8 1030.1h0M1140.1 859.4h0M1146 922h0M1079.4 973h0M1127.4 975.5h0M1120.7 977.7h0M1111 981.9h0M1134.4 1000.9h0M1080.4 1005.9h0M1121.7 1010.4h0M1064.5 1011.9h0M1131.8 1014.5h0M1091.5 1017.7h0M1081.2 1022.1h0M1050.3 1023h0M1116.1 1023h0M1068.8 1025h0M1102 1024.5h0M1196.8 1028.4h0" stroke="#0000ff" stroke-width="5.5" stroke-linecap="round" fill="none"/>
<polygon points="842.4,1193.9 849.8,1190.8 857.2,1187.7 864.5,1184.6 871.9,1181.5 879.3,1178.4 886.7,1175.3 894.1,1172.2 901.4,1169.1 908.8,1166 916.2,1162.9 923.6,1159.8 930.9,1156.7 938.3,1153.5 945.7,1150.4 953.1,1147.3 960.5,1144.1 967.8,1140.9 975.2,1137.7 982.6,1134.5 990,1131.3 997.4,1128 1004.7,1124.7 1012.1,1121.3 1019.5,1117.9 1026.9,1114.3 1034.3,1110.7 1041.6,1106.9 1049,1103.1 1056.4,1099.1 1063.8,1095 1071.2,1090.9 1078.5,1086.7 1085.9,1082.4 1093.3,1078.1 1100.7,1073.8 1108,1069.4 1115.4,1065.1 1122.8,1060.7 1130.2,1056.3 1137.6,1051.9 1144.9,1047.5 1152.3,1043.1 1159.7,1038.7 1167.1,1034.2 1174.5,1029.8 1181.8,1025.4 1189.2,1020.9 1196.6,1016.5 1196.6,1047.5 1189.2,1050.6 1181.8,1053.7 1174.5,1056.8 1167.1,1059.9 1159.7,1063 1152.3,1066.1 1144.9,1069.3 1137.6,1072.4 1130.2,1075.5 1122.8,1078.7 1115.4,1081.8 1108,1085 1100.7,1088.2 1093.3,1091.4 1085.9,1094.7 1078.5,1097.9 1071.2,1101.3 1063.8,1104.7 1056.4,1108.1 1049,1111.7 1041.6,1115.4 1034.3,1119.1 1026.9,1123 1019.5,1127 1012.1,1131.1 1004.7,1135.3 997.4,1139.5 990,1143.7 982.6,1148 975.2,1152.4 967.8,1156.7 960.5,1161.1 953.1,1165.5 945.7,1169.9 938.3,1174.3 930.9,1178.7 923.6,1183.1 916.2,1187.5 908.8,1191.9 901.4,1196.4 894.1,1200.8 886.7,1205.2 879.3,1209.7 871.9,1214.1 864.5,1218.6 857.2,1223 849.8,1227.5 842.4,1231.9" fill="#4d4d4d" fill-opacity="0.37"/>
<line x1="842.4" y1="1212.9" x2="1196.6" y2="1032.0" stroke="#ff0000" stroke-width="3.5"/>
<path d="M824.9 840.7V1250.6H1214.4" fill="none" stroke="#000" stroke-width="1.8" stroke-linecap="butt" stroke-linejoin="round"/>
<path d="M819.5 858H824.9M819.5 960.1H824.9M819.5 1062.2H824.9M819.5 1164.3H824.9M886.7 1250.6V1256.1M949.6 1250.6V1256.1M1012.5 1250.6V1256.1M1075.4 1250.6V1256.1M1138.3 1250.6V1256.1M1201.2 1250.6V1256.1" fill="none" stroke="#000" stroke-width="1.75"/>
<g font-size="20">
<g text-anchor="end">
<text transform="translate(815.5 865.3) scale(1 1.038)">0.12</text>
<text transform="translate(815.5 967.4) scale(1 1.038)">0.08</text>
<text transform="translate(815.5 1069.5) scale(1 1.038)">0.04</text>
<text transform="translate(815.5 1171.6) scale(1 1.038)">0.00</text>
</g><g text-anchor="middle">
<text transform="translate(886.7 1274.2) scale(1 1.038)">10.0</text>
<text transform="translate(949.6 1274.2) scale(1 1.038)">10.5</text>
<text transform="translate(1012.5 1274.2) scale(1 1.038)">11.0</text>
<text transform="translate(1075.4 1274.2) scale(1 1.038)">11.5</text>
<text transform="translate(1138.3 1274.2) scale(1 1.038)">12.0</text>
<text transform="translate(1201.2 1274.2) scale(1 1.038)">12.5</text>
<text transform="translate(1019.7 1297.8) scale(1 1.02)">S100A9 expression level</text>
<text transform="translate(767.5 1045.7) rotate(-90) scale(1 1.02)">Neutrophils</text>
</g></g>
<text transform="translate(842.6 864.2) scale(1 1.038)" font-size="18.75"><tspan font-style="italic">R</tspan><tspan x="17.1">=</tspan><tspan x="32.4">0.62,</tspan><tspan x="78.7" font-style="italic">p</tspan><tspan x="93.5">&lt;</tspan><tspan x="108">2.2e−16</tspan></text>
</g>
<g id="plotF">
<path d="M1684.5 983.1h0M1689.7 985.6h0M1701.8 998h0M1707.1 1011.3h0M1689.8 1016.7h0M1709.1 1018.8h0M1700.7 1034h0M1648.6 1035.3h0M1655.4 1035.5h0M1671.6 1036.1h0M1634.5 1040.7h0M1684.5 1041h0M1660.8 1043.3h0M1668.4 1044h0M1811 859.4h0M1821.8 864.3h0M1840.4 879.9h0M1816.7 888h0M1881.3 900.5h0M1771.8 910.3h0M1801.5 908.7h0M1785.5 922.4h0M1771.9 938.9h0M1808.5 941.4h0M1835.7 939.3h0M1765.3 951.6h0M1814.2 955.8h0M1815.3 957.3h0M1849.4 955.9h0M1837.3 967h0M1787.3 969.1h0M1790.5 971.4h0M1793.4 972.8h0M1796.9 970h0M1818.2 972.3h0M1756 975.4h0M1775.9 974.4h0M1802.6 975.4h0M1833.7 975.9h0M1873.7 976h0M1784.3 979.7h0M1811.9 983.1h0M1744.6 987.1h0M1799.6 989.5h0M1863.2 989.5h0M1786.3 992.3h0M1774.1 996.2h0M1729.6 995.8h0M1726.1 998.6h0M1746.7 997.5h0M1798 1002h0M1802.4 1001.8h0M1729 1005.4h0M1734.1 1005.7h0M1797 1007h0M1824.4 1009.2h0M1720.8 1009.8h0M1781 1012.9h0M1770.4 1015.7h0M1722.3 1015.9h0M1721.2 1017.4h0M1710.2 1022.2h0M1756.4 1019.2h0M1894 1022.4h0M1767.4 1027.9h0M1723.7 1030.6h0M1723.7 1033.8h0M1744.3 1032.3h0M1778 1031.8h0M1769.1 1034.7h0M1764.5 1037h0M1876.1 1035.9h0M1822.5 1036.1h0M1823.8 1037.8h0M1743.5 1040.6h0M1710.7 1041.3h0M1802.6 1044.2h0M1699.3 1051.5h0M1653.3 1056h0M1685.2 1057.3h0M1693.9 1059.3h0M1669.5 1062h0M1691.8 1067.9h0M1697 1067.4h0M1635.9 1069.9h0M1672.8 1070.8h0M1658 1077.1h0M1681 1081.5h0M1683.1 1084.3h0M1693.9 1081.1h0M1592.8 1086.1h0M1668.7 1089.2h0M1697 1088h0M1691.8 1092.2h0M1661.7 1093.9h0M1629.5 1094.3h0M1619.4 1095.9h0M1701.5 1094.4h0M1706.6 1098.8h0M1649.3 1101.4h0M1675.3 1100.8h0M1659.7 1103.8h0M1697.1 1104.3h0M1684.8 1106.3h0M1681 1108.8h0M1671.3 1109h0M1701 1109.2h0M1664.6 1111.1h0M1593.6 1116.3h0M1605.8 1119h0M1705.8 1122.1h0M1639.8 1126.9h0M1644.4 1124.9h0M1653.6 1126.7h0M1655.7 1129.4h0M1620.8 1130.8h0M1689.5 1132.2h0M1606.2 1134.8h0M1613 1136.3h0M1669.8 1135.8h0M1671.6 1134.4h0M1626.6 1142.3h0M1648.3 1143.2h0M1664.5 1143.8h0M1691.1 1142.8h0M1697 1145.5h0M1616.6 1146.4h0M1657.3 1147.5h0M1674.6 1147.5h0M1596.2 1151.7h0M1703 1154.6h0M1638.2 1161.2h0M1680.5 1161.9h0M1658.6 1169.8h0M1668.1 1173.9h0M1529.4 1177.1h0M1688.8 1178.5h0M1702.2 1179.9h0M1567.8 1181.3h0M1547 1193.9h0M1542.6 1203.9h0M1641.5 1232.2h0M1818.8 1048.3h0M1751 1054.4h0M1793.6 1055h0M1823.4 1054.8h0M1746.1 1058.7h0M1715.2 1059.6h0M1797.4 1060.3h0M1766.2 1066.1h0M1767.2 1070.2h0M1782.4 1068.4h0M1784.1 1069.1h0M1720.6 1069.3h0M1727.5 1069.7h0M1732.2 1069.9h0M1734.1 1070.2h0M1746 1069.7h0M1725.8 1073.5h0M1758.1 1075.3h0M1761.6 1077.1h0M1711.6 1078h0M1747.2 1079.7h0M1753.3 1079.3h0M1724.1 1081.2h0M1737.7 1081.1h0M1720 1084.8h0M1767 1084.3h0M1782.1 1087.2h0M1748.9 1086.4h0M1751.2 1087.6h0M1739.3 1089.8h0M1744.6 1091h0M1726.4 1095.9h0M1722.3 1098.2h0M1733.9 1099.1h0M1714.5 1099.8h0M1725.3 1102.8h0M1756.6 1103.8h0M1736 1106h0M1741.6 1105.1h0M1771.4 1105.6h0M1729.8 1111.6h0M1763.6 1112.3h0M1740.2 1115.7h0M1713.7 1116.5h0M1712.7 1133.1h0M1720.6 1141.5h0M1731.1 1140.2h0M1711 1157.6h0M1724.4 1159.1h0M1754.7 1159h0M1811.3 1159.3h0M1736.5 1169.3h0" stroke="#0000ff" stroke-width="5.5" stroke-linecap="round" fill="none"/>
<polygon points="1529.4,1174.5 1537,1170.1 1544.6,1165.7 1552.2,1161.3 1559.8,1156.9 1567.4,1152.4 1575,1148 1582.6,1143.6 1590.2,1139.2 1597.7,1134.7 1605.3,1130.3 1612.9,1125.9 1620.5,1121.4 1628.1,1116.9 1635.7,1112.5 1643.3,1108 1650.9,1103.5 1658.5,1098.9 1666.1,1094.4 1673.7,1089.8 1681.3,1085.1 1688.9,1080.4 1696.5,1075.7 1704.1,1070.8 1711.7,1065.9 1719.2,1060.8 1726.8,1055.6 1734.4,1050.3 1742,1044.9 1749.6,1039.3 1757.2,1033.7 1764.8,1028 1772.4,1022.2 1780,1016.3 1787.6,1010.5 1795.2,1004.6 1802.8,998.6 1810.4,992.7 1818,986.7 1825.6,980.8 1833.2,974.8 1840.7,968.8 1848.3,962.8 1855.9,956.7 1863.5,950.7 1871.1,944.7 1878.7,938.7 1886.3,932.6 1893.9,926.6 1893.9,965.8 1886.3,970.2 1878.7,974.6 1871.1,979.1 1863.5,983.5 1855.9,987.9 1848.3,992.3 1840.7,996.8 1833.2,1001.2 1825.6,1005.7 1818,1010.2 1810.4,1014.7 1802.8,1019.2 1795.2,1023.7 1787.6,1028.2 1780,1032.8 1772.4,1037.4 1764.8,1042.1 1757.2,1046.8 1749.6,1051.6 1742,1056.5 1734.4,1061.5 1726.8,1066.7 1719.2,1071.9 1711.7,1077.3 1704.1,1082.8 1696.5,1088.4 1688.9,1094.1 1681.3,1099.9 1673.7,1105.7 1666.1,1111.5 1658.5,1117.4 1650.9,1123.3 1643.3,1129.3 1635.7,1135.2 1628.1,1141.2 1620.5,1147.2 1612.9,1153.2 1605.3,1159.2 1597.7,1165.2 1590.2,1171.2 1582.6,1177.2 1575,1183.3 1567.4,1189.3 1559.8,1195.3 1552.2,1201.4 1544.6,1207.4 1537,1213.5 1529.4,1219.5" fill="#4d4d4d" fill-opacity="0.37"/>
<line x1="1529.4" y1="1197.0" x2="1893.9" y2="946.2" stroke="#ff0000" stroke-width="3.5"/>
<path d="M1511.4 840.7V1250.6H1911.9" fill="none" stroke="#000" stroke-width="1.8" stroke-linecap="butt" stroke-linejoin="round"/>
<path d="M1506 847.6H1511.4M1506 931.6H1511.4M1506 1015.6H1511.4M1506 1099.6H1511.4M1506 1183.6H1511.4M1515.3 1250.6V1256.1M1592 1250.6V1256.1M1668.7 1250.6V1256.1M1745.4 1250.6V1256.1M1822.1 1250.6V1256.1M1898.8 1250.6V1256.1" fill="none" stroke="#000" stroke-width="1.75"/>
<g font-size="20">
<g text-anchor="end">
<text transform="translate(1502 854.9) scale(1 1.038)">0.6</text>
<text transform="translate(1502 938.9) scale(1 1.038)">0.5</text>
<text transform="translate(1502 1022.9) scale(1 1.038)">0.4</text>
<text transform="translate(1502 1106.9) scale(1 1.038)">0.3</text>
<text transform="translate(1502 1190.9) scale(1 1.038)">0.2</text>
</g><g text-anchor="middle">
<text transform="translate(1515.3 1274.2) scale(1 1.038)">9.5</text>
<text transform="translate(1592 1274.2) scale(1 1.038)">10.0</text>
<text transform="translate(1668.7 1274.2) scale(1 1.038)">10.5</text>
<text transform="translate(1745.4 1274.2) scale(1 1.038)">11.0</text>
<text transform="translate(1822.1 1274.2) scale(1 1.038)">11.5</text>
<text transform="translate(1898.8 1274.2) scale(1 1.038)">12.0</text>
<text transform="translate(1711.7 1297.8) scale(1 1.02)">SLC11A1 expression level</text>
<text transform="translate(1465.3 1045.7) rotate(-90) scale(1 1.02)">Monocytes</text>
</g></g>
<text transform="translate(1529.6 864.2) scale(1 1.038)" font-size="18.75"><tspan font-style="italic">R</tspan><tspan x="17.1">=</tspan><tspan x="32.4">0.67,</tspan><tspan x="78.7" font-style="italic">p</tspan><tspan x="93.5">&lt;</tspan><tspan x="108">2.2e−16</tspan></text>
</g>
<g id="plotG">
<path d="M312.2 1563.2h0M320.4 1565.7h0M275.3 1581.8h0M286.4 1586.9h0M314.1 1582.3h0M320.4 1581.5h0M322.4 1580.3h0M323.9 1598.5h0M504.4 1408.5h0M457.1 1413.5h0M474.6 1428.6h0M439.9 1436.6h0M436.1 1448.8h0M375 1458.6h0M389.9 1457h0M437.9 1470.6h0M434.8 1486.9h0M458.9 1489.2h0M463.4 1487.1h0M379.3 1499.3h0M418.8 1504.4h0M469.6 1503.5h0M473.9 1503.5h0M418.6 1516.4h0M430.8 1517.6h0M443.9 1519.9h0M423.4 1522.7h0M372.5 1522.7h0M392.3 1521.8h0M480.6 1513.9h0M479.4 1519.1h0M486.1 1519.7h0M498.9 1522.9h0M475.1 1523.5h0M458.9 1526.6h0M360.8 1530.1h0M363.9 1534.1h0M403.4 1530.1h0M410.1 1532.6h0M429.8 1536.4h0M445.4 1536.2h0M392.6 1539.3h0M453.4 1542.5h0M381.8 1543.1h0M372.5 1544.3h0M342.8 1544.9h0M430.7 1545.3h0M452.9 1548.8h0M403 1549h0M350.2 1552.3h0M375.2 1552h0M408.5 1553.6h0M378.3 1556.4h0M422.6 1555.5h0M358.6 1557.9h0M384.4 1559.4h0M411.3 1561.8h0M403.9 1562.8h0M337.7 1563.7h0M349.6 1565.8h0M333.1 1568.4h0M444.6 1568.8h0M386.8 1574.2h0M424.6 1577.2h0M390.5 1578h0M411.6 1578.3h0M378.1 1579.8h0M371.2 1580.7h0M397.4 1582.6h0M429.8 1582.1h0M440.7 1582.8h0M468.2 1583.9h0M377.8 1586.1h0M336.3 1586.9h0M341 1590h0M424.9 1587.3h0M422.3 1589.8h0M397.2 1591.1h0M441.4 1594.5h0M342.4 1597.7h0M323.9 1601.8h0M244.4 1615.6h0M263.3 1616.6h0M274.1 1626.6h0M304.4 1626.5h0M317.5 1626.6h0M322.4 1624.5h0M324.7 1622.6h0M301 1631.2h0M302.7 1633.2h0M284.5 1634.3h0M309.7 1635.3h0M321.2 1632.6h0M273.6 1639.2h0M295.9 1639.5h0M261.1 1641.3h0M295.5 1644.5h0M320.4 1645.4h0M307.7 1649.1h0M287.7 1651.4h0M320.3 1651.4h0M256.2 1654h0M270.2 1653.6h0M289.4 1654.6h0M303.3 1656h0M235.3 1661.4h0M321.8 1664.2h0M303.5 1666.7h0M244.6 1669.6h0M222.5 1671.3h0M228.1 1671.8h0M316.9 1674h0M275.6 1675.4h0M306.1 1676.9h0M271.3 1678.8h0M278.1 1679.6h0M261.1 1680.6h0M218 1681.1h0M314.5 1684h0M314.3 1686.3h0M155.8 1686.7h0M278.5 1687h0M237.3 1687.4h0M300.4 1689.8h0M298.7 1691.9h0M258.8 1690.7h0M274.8 1691.9h0M195.4 1695.9h0M295.2 1698.5h0M295.9 1701.9h0M322.5 1703.1h0M317.5 1705.5h0M161.9 1706h0M304.7 1713.5h0M139.8 1721h0M264 1722.2h0M260.3 1723.7h0M188.9 1724.5h0M228.9 1737.4h0M167.3 1747.3h0M165.2 1775.2h0M335.8 1604.3h0M410.1 1600.8h0M412.4 1600.5h0M429.8 1600.6h0M349.8 1605.2h0M362.7 1605.1h0M367.7 1603.1h0M426.1 1606.2h0M344.3 1607.8h0M422.8 1611.8h0M331.6 1613h0M329 1615.5h0M337.3 1615h0M345.4 1614.1h0M377.8 1614.7h0M383 1614.1h0M383.5 1616.2h0M387.6 1615.9h0M402.5 1615.3h0M359.5 1619h0M365.3 1621.1h0M340.6 1622.8h0M429.5 1622.6h0M325.2 1622.6h0M390.7 1625.2h0M330.4 1628h0M331.3 1630h0M359.9 1630h0M395.4 1629.5h0M393.9 1632.8h0M380.7 1632.6h0M348 1634.3h0M386.1 1636.3h0M358.9 1637.5h0M346.3 1639.5h0M370.8 1641.5h0M446.5 1643.2h0M341.1 1643.9h0M378.9 1645.1h0M364.7 1647.9h0M349.1 1648.9h0M342 1649.1h0M340.2 1650.5h0M355.5 1650.8h0M326.9 1651.2h0M359.3 1657.3h0M382.3 1656.5h0M353.6 1660.8h0M325.2 1661.5h0M367.7 1667.4h0M334.9 1677.6h0M333.4 1688.2h0M348.9 1703.3h0M360.1 1703.4h0M328.2 1717.8h0" stroke="#0000ff" stroke-width="5.5" stroke-linecap="round" fill="none"/>
<polygon points="140,1742.2 147.6,1737.4 155.2,1732.5 162.8,1727.7 170.4,1722.9 177.9,1718 185.5,1713.2 193.1,1708.3 200.7,1703.5 208.3,1698.6 215.9,1693.8 223.5,1688.9 231.1,1684.1 238.7,1679.2 246.3,1674.3 253.8,1669.4 261.4,1664.5 269,1659.6 276.6,1654.6 284.2,1649.7 291.8,1644.7 299.4,1639.7 307,1634.7 314.6,1629.6 322.1,1624.4 329.7,1619.2 337.3,1613.9 344.9,1608.5 352.5,1603 360.1,1597.5 367.7,1591.8 375.3,1586.1 382.9,1580.2 390.5,1574.4 398,1568.4 405.6,1562.5 413.2,1556.5 420.8,1550.5 428.4,1544.4 436,1538.4 443.6,1532.3 451.2,1526.2 458.8,1520.1 466.4,1514 473.9,1507.9 481.5,1501.8 489.1,1495.7 496.7,1489.5 504.3,1483.4 504.3,1512.8 496.7,1517.6 489.1,1522.5 481.5,1527.4 473.9,1532.2 466.4,1537.1 458.8,1542 451.2,1546.9 443.6,1551.7 436,1556.7 428.4,1561.6 420.8,1566.5 413.2,1571.5 405.6,1576.5 398,1581.5 390.5,1586.5 382.9,1591.6 375.3,1596.8 367.7,1602 360.1,1607.3 352.5,1612.7 344.9,1618.2 337.3,1623.8 329.7,1629.5 322.1,1635.3 314.6,1641.1 307,1647 299.4,1652.9 291.8,1658.9 284.2,1664.9 276.6,1670.9 269,1677 261.4,1683 253.8,1689.1 246.3,1695.2 238.7,1701.3 231.1,1707.4 223.5,1713.5 215.9,1719.6 208.3,1725.8 200.7,1731.9 193.1,1738 185.5,1744.1 177.9,1750.3 170.4,1756.4 162.8,1762.6 155.2,1768.7 147.6,1774.9 140,1781" fill="#4d4d4d" fill-opacity="0.37"/>
<line x1="140.0" y1="1761.6" x2="504.3" y2="1498.1" stroke="#ff0000" stroke-width="3.5"/>
<path d="M121.6 1390.2V1799.9H522.5" fill="none" stroke="#000" stroke-width="1.8" stroke-linecap="butt" stroke-linejoin="round"/>
<path d="M116.2 1397H121.6M116.2 1479.6H121.6M116.2 1562.2H121.6M116.2 1644.8H121.6M116.2 1727.4H121.6M127.1 1799.9V1805.4M227.1 1799.9V1805.4M327.1 1799.9V1805.4M427.1 1799.9V1805.4" fill="none" stroke="#000" stroke-width="1.75"/>
<g font-size="20">
<g text-anchor="end">
<text transform="translate(112.2 1404.3) scale(1 1.038)">0.6</text>
<text transform="translate(112.2 1486.9) scale(1 1.038)">0.5</text>
<text transform="translate(112.2 1569.5) scale(1 1.038)">0.4</text>
<text transform="translate(112.2 1652.1) scale(1 1.038)">0.3</text>
<text transform="translate(112.2 1734.7) scale(1 1.038)">0.2</text>
</g><g text-anchor="middle">
<text transform="translate(127.1 1823.5) scale(1 1.038)">8</text>
<text transform="translate(227.1 1823.5) scale(1 1.038)">9</text>
<text transform="translate(327.1 1823.5) scale(1 1.038)">10</text>
<text transform="translate(427.1 1823.5) scale(1 1.038)">11</text>
<text transform="translate(322.1 1847.1) scale(1 1.02)">AQP9 expression level</text>
<text transform="translate(75.5 1595.1) rotate(-90) scale(1 1.02)">Monocytes</text>
</g></g>
<text transform="translate(140.2 1413.7) scale(1 1.038)" font-size="18.75"><tspan font-style="italic">R</tspan><tspan x="17.1">=</tspan><tspan x="32.4">0.76,</tspan><tspan x="78.7" font-style="italic">p</tspan><tspan x="93.5">&lt;</tspan><tspan x="108">2.2e−16</tspan></text>
</g>
<g id="plotH">
<path d="M968.3 1565.3h0M980.9 1570.5h0M995.3 1584.7h0M1027.4 1584.4h0M1026.8 1589h0M1208.5 1408.6h0M1170.3 1413.6h0M1181.8 1429h0M1144 1437.1h0M1094.8 1449.4h0M1089.6 1457.6h0M1081 1459.1h0M1123.8 1471.5h0M1123.8 1487.9h0M1167.1 1487.9h0M1164.5 1490.4h0M1135.2 1500.5h0M1145.5 1504.8h0M1171.7 1504.7h0M1090.7 1505.9h0M1156.5 1515.6h0M1136.5 1517.6h0M1134.2 1520.2h0M1116.3 1519.1h0M1153 1521.1h0M1157.9 1520.6h0M1101.3 1524.2h0M1106.8 1524.1h0M1114 1523.1h0M1163.9 1524.5h0M1193.3 1524.8h0M1112.2 1528.6h0M1070.6 1531.8h0M1085.7 1531.8h0M1071.8 1535.8h0M1156.8 1534.3h0M1093.2 1538.2h0M1096.3 1540.8h0M1175.4 1538.2h0M1145.2 1544.7h0M1140.2 1547.2h0M1108 1545.1h0M1102.2 1546.1h0M1080.2 1546.5h0M1170.2 1550.4h0M1061.7 1551h0M1070.3 1553.9h0M1084.6 1554.2h0M1129 1555.6h0M1167.2 1558h0M1038.7 1558.5h0M1047.4 1561.5h0M1060.1 1559.6h0M1136.7 1564.3h0M1123.8 1564.7h0M1115.1 1565.8h0M1033.7 1568h0M1095.5 1567.6h0M1129 1571h0M1081.6 1576.4h0M1144.6 1579.5h0M1066 1581h0M1071.2 1582.1h0M1074.7 1582.6h0M1032.5 1582.1h0M1037.7 1583.8h0M1047.9 1584.7h0M1088 1585h0M1113.4 1584.5h0M1122.7 1586.2h0M1031.4 1589h0M1043.3 1589.3h0M1091.3 1589.9h0M1049.5 1592.2h0M1064.9 1593h0M1071.2 1592.5h0M1075.8 1592.8h0M1101.9 1597.1h0M1027.1 1600.3h0M1018.7 1604.1h0M1002.5 1606.8h0M1017.9 1610.3h0M968.8 1618.4h0M975.7 1618.3h0M976.5 1629.5h0M1004.7 1629.5h0M1028.3 1629.5h0M1013.5 1632.3h0M1022.8 1634.3h0M1025.4 1637.5h0M977.5 1638.2h0M1018.7 1642.2h0M1009.5 1642.7h0M976.2 1644.2h0M984 1647.4h0M951.1 1649.6h0M1009.7 1652.4h0M1017.4 1652.1h0M1023.9 1650.8h0M1025.6 1653.4h0M1027.7 1654.6h0M1002.4 1654.3h0M981.4 1654.8h0M923.5 1657.1h0M934.9 1656.9h0M958.7 1657.3h0M975 1659.2h0M944.9 1664.6h0M1012.4 1664.7h0M1023.3 1663.8h0M1024.5 1667.5h0M994.4 1669.9h0M964.6 1673.2h0M937.6 1674.9h0M994.4 1677.7h0M998.5 1680.6h0M1006 1678.8h0M1004.8 1683.1h0M977.1 1681.1h0M975 1682.6h0M938.1 1684h0M944.2 1684.4h0M977.1 1689.8h0M982.5 1688.2h0M851.4 1690.4h0M993.3 1690.7h0M929.2 1691.1h0M954.6 1693.3h0M955.5 1694.4h0M922.6 1695.3h0M948.8 1695.7h0M925.7 1699.3h0M935.2 1702.7h0M968.1 1705.7h0M924.4 1706.9h0M939.7 1707h0M944.2 1707.3h0M901.4 1709.9h0M1023 1709.3h0M905.5 1716.7h0M939.2 1717.9h0M998.8 1721.8h0M844 1725.2h0M886.5 1727.6h0M931.8 1726.3h0M907.1 1729.2h0M867.7 1741.6h0M890.7 1751.7h0M852.9 1779.9h0M1074.7 1603.1h0M1137.4 1603h0M1095.5 1603.1h0M1030.2 1605.9h0M1081.6 1608h0M1093.7 1608.7h0M1096.9 1607.4h0M1098 1614.4h0M1064.9 1615.3h0M1074.9 1616.2h0M1051.6 1617.1h0M1041.2 1616.8h0M1082.8 1617h0M1084.5 1618.5h0M1061.4 1618.6h0M1069.1 1618.6h0M1108.9 1617.9h0M1039.4 1619.3h0M1099.3 1621.8h0M1038.9 1623.9h0M1036 1625.7h0M1046.3 1625.3h0M1057.9 1625.4h0M1071.2 1625.9h0M1071.6 1629.7h0M1046.4 1632.4h0M1049.3 1633.2h0M1048.7 1636.1h0M1036 1634.9h0M1033.7 1635.7h0M1035.2 1637.6h0M1070.1 1635.7h0M1076 1639.2h0M1063.7 1640.1h0M1048.7 1642.4h0M1064.6 1644.5h0M1051.2 1647.1h0M1123.2 1646.2h0M1084.6 1648.1h0M1040.8 1648.8h0M1058.9 1652.3h0M1062.9 1653.4h0M1047.3 1659.8h0M1081.8 1660.6h0M1031.4 1670.7h0M1039.1 1691.8h0" stroke="#0000ff" stroke-width="5.5" stroke-linecap="round" fill="none"/>
<polygon points="844.2,1749.2 851.8,1743.9 859.4,1738.6 867,1733.3 874.6,1728 882.1,1722.7 889.7,1717.4 897.3,1712.1 904.9,1706.8 912.5,1701.5 920.1,1696.2 927.7,1690.9 935.2,1685.6 942.8,1680.2 950.4,1674.9 958,1669.5 965.6,1664.2 973.2,1658.8 980.8,1653.4 988.4,1648 996,1642.5 1003.5,1637 1011.1,1631.5 1018.7,1625.9 1026.3,1620.3 1033.9,1614.6 1041.5,1608.8 1049.1,1602.9 1056.7,1597 1064.2,1591 1071.8,1584.9 1079.4,1578.8 1087,1572.6 1094.6,1566.4 1102.2,1560.2 1109.8,1553.9 1117.4,1547.6 1124.9,1541.3 1132.5,1534.9 1140.1,1528.6 1147.7,1522.2 1155.3,1515.9 1162.9,1509.5 1170.5,1503.1 1178.1,1496.8 1185.6,1490.4 1193.2,1484 1200.8,1477.6 1208.4,1471.2 1208.4,1497.8 1200.8,1503.1 1193.2,1508.4 1185.6,1513.7 1178.1,1519 1170.5,1524.3 1162.9,1529.6 1155.3,1535 1147.7,1540.3 1140.1,1545.6 1132.5,1551 1124.9,1556.3 1117.4,1561.7 1109.8,1567.1 1102.2,1572.5 1094.6,1578 1087,1583.4 1079.4,1589 1071.8,1594.5 1064.2,1600.1 1056.7,1605.8 1049.1,1611.6 1041.5,1617.4 1033.9,1623.3 1026.3,1629.3 1018.7,1635.4 1011.1,1641.5 1003.5,1647.6 996,1653.8 988.4,1660.1 980.8,1666.4 973.2,1672.6 965.6,1679 958,1685.3 950.4,1691.6 942.8,1698 935.2,1704.3 927.7,1710.7 920.1,1717.1 912.5,1723.4 904.9,1729.8 897.3,1736.2 889.7,1742.6 882.1,1749 874.6,1755.4 867,1761.8 859.4,1768.2 851.8,1774.6 844.2,1781" fill="#4d4d4d" fill-opacity="0.37"/>
<line x1="844.2" y1="1765.1" x2="1208.4" y2="1484.5" stroke="#ff0000" stroke-width="3.5"/>
<path d="M825.8 1390.2V1799.9H1226.4" fill="none" stroke="#000" stroke-width="1.8" stroke-linecap="butt" stroke-linejoin="round"/>
<path d="M820.4 1397H825.8M820.4 1480.6H825.8M820.4 1564.2H825.8M820.4 1647.8H825.8M820.4 1731.4H825.8M828.4 1799.9V1805.4M913.6 1799.9V1805.4M998.8 1799.9V1805.4M1084 1799.9V1805.4M1169.2 1799.9V1805.4" fill="none" stroke="#000" stroke-width="1.75"/>
<g font-size="20">
<g text-anchor="end">
<text transform="translate(816.4 1404.3) scale(1 1.038)">0.6</text>
<text transform="translate(816.4 1487.9) scale(1 1.038)">0.5</text>
<text transform="translate(816.4 1571.5) scale(1 1.038)">0.4</text>
<text transform="translate(816.4 1655.1) scale(1 1.038)">0.3</text>
<text transform="translate(816.4 1738.7) scale(1 1.038)">0.2</text>
</g><g text-anchor="middle">
<text transform="translate(828.4 1823.5) scale(1 1.038)">10.5</text>
<text transform="translate(913.6 1823.5) scale(1 1.038)">11.0</text>
<text transform="translate(998.8 1823.5) scale(1 1.038)">11.5</text>
<text transform="translate(1084 1823.5) scale(1 1.038)">12.0</text>
<text transform="translate(1169.2 1823.5) scale(1 1.038)">12.5</text>
<text transform="translate(1026.1 1847.1) scale(1 1.02)">CD14 expression level</text>
<text transform="translate(779.5 1595.1) rotate(-90) scale(1 1.02)">Monocytes</text>
</g></g>
<text transform="translate(844.4 1413.7) scale(1 1.038)" font-size="18.75"><tspan font-style="italic">R</tspan><tspan x="17.1">=</tspan><tspan x="32.4">0.82,</tspan><tspan x="78.7" font-style="italic">p</tspan><tspan x="93.5">&lt;</tspan><tspan x="108">2.2e−16</tspan></text>
</g>
<g id="plotI">
<path d="M1708.3 1553.2h0M1662.7 1564.3h0M1676.8 1569.6h0M1696.5 1567h0M1657.8 1583.2h0M1677.4 1583.8h0M1693.9 1587.8h0M1697.4 1588.1h0M1704.3 1583.8h0M1706.6 1582.6h0M1835.8 1408.6h0M1801.7 1413.5h0M1820.7 1428.9h0M1827.5 1436.7h0M1790.8 1449.2h0M1805.6 1458.8h0M1828.7 1457.4h0M1785 1471h0M1746.8 1487.4h0M1817 1489.7h0M1852 1487.8h0M1761.3 1500h0M1766.9 1505.5h0M1846.3 1504.3h0M1868.3 1503.8h0M1864.1 1515.4h0M1806.2 1517h0M1805.5 1520.5h0M1811.1 1520.5h0M1751.9 1518.4h0M1773.4 1519.8h0M1778 1522.7h0M1783.8 1523.6h0M1738 1523.6h0M1822.9 1523.7h0M1830.4 1524.2h0M1818.5 1527.9h0M1729.6 1531.1h0M1826 1531.2h0M1784.3 1533.5h0M1754 1535.3h0M1792.2 1537.3h0M1840 1540.1h0M1894 1537.3h0M1803 1544.2h0M1785.8 1543.7h0M1794 1546.4h0M1716.1 1545.3h0M1740.2 1545.8h0M1811.3 1549.4h0M1785 1550.3h0M1764.7 1552.9h0M1837.6 1554.8h0M1871 1557h0M1753.3 1557.2h0M1756.4 1559h0M1763.9 1560.7h0M1781.6 1563.2h0M1769.1 1563.9h0M1774 1565h0M1820.1 1567h0M1743.6 1569.9h0M1761.6 1575.5h0M1754.6 1578.5h0M1804.9 1579.9h0M1794.5 1581.3h0M1775.2 1581.5h0M1742 1581.5h0M1732.2 1583.5h0M1758.1 1584.1h0M1841.9 1585.2h0M1736.4 1588.3h0M1762 1589.1h0M1724.6 1591.1h0M1728.7 1592.2h0M1806.9 1590.7h0M1796.6 1591.9h0M1775.4 1595.9h0M1719.8 1598.8h0M1691 1603.1h0M1702.2 1604.5h0M1698.5 1609.4h0M1675.7 1616.3h0M1636.3 1617h0M1695.3 1615.3h0M1694.5 1618.2h0M1710.6 1616.1h0M1700.2 1622.6h0M1705.2 1623.9h0M1681.1 1626.4h0M1647.6 1628.3h0M1700.8 1628h0M1671.4 1631.2h0M1665.8 1633.2h0M1688.1 1634.1h0M1692.5 1635.5h0M1675.1 1636.7h0M1707.8 1636.1h0M1684.1 1640.7h0M1653.8 1642.8h0M1684.6 1645.9h0M1670 1651h0M1695 1650.6h0M1678.9 1652.6h0M1682.7 1652.8h0M1653.8 1653.3h0M1708.6 1653.1h0M1641 1655.6h0M1635.5 1657.8h0M1694.2 1658.4h0M1635.2 1663.3h0M1699.1 1663.2h0M1695.4 1665.8h0M1666.4 1668.5h0M1681.5 1669.1h0M1591.2 1671.5h0M1646.5 1673.4h0M1676.3 1673.7h0M1660 1675.7h0M1617.6 1677.6h0M1689.5 1678.5h0M1690.1 1681.5h0M1676.2 1680.9h0M1615.7 1683.2h0M1611.3 1686.7h0M1566.4 1688.8h0M1662.8 1689.1h0M1708.7 1689.6h0M1626.2 1692h0M1638.7 1692.8h0M1680.6 1694h0M1703.2 1694.1h0M1566.4 1698h0M1667.5 1701h0M1655.8 1703.9h0M1646.2 1705.2h0M1696.5 1705.6h0M1684.5 1708.2h0M1635.2 1715.5h0M1692.4 1716h0M1695.2 1720.1h0M1555.5 1723.4h0M1624.2 1724.5h0M1614.7 1726h0M1595.8 1727.4h0M1529.5 1739.7h0M1588.3 1749.7h0M1655.5 1777.8h0M1750.1 1602.3h0M1815.9 1602h0M1842.6 1601.9h0M1757.2 1605.9h0M1762.5 1607.4h0M1770.9 1606.4h0M1724.6 1606.8h0M1812 1613h0M1813.4 1616.8h0M1715.4 1614.1h0M1726.4 1615.3h0M1731.8 1617.4h0M1772.8 1616.9h0M1781.9 1617h0M1788.9 1617.2h0M1766.8 1619.9h0M1769.7 1623.6h0M1765.7 1624.3h0M1761 1625.1h0M1772.8 1626.6h0M1731 1628h0M1735.4 1628.8h0M1729.8 1631.8h0M1783 1631.3h0M1755.5 1633.7h0M1762.8 1634.3h0M1764.5 1638h0M1719.2 1634.8h0M1752.7 1639.1h0M1724.1 1640.9h0M1731.1 1641h0M1760.1 1642.8h0M1761.6 1646.8h0M1788.2 1645h0M1721.8 1645.9h0M1728.1 1647.3h0M1729.8 1648.4h0M1724.4 1649.6h0M1737.4 1650.9h0M1770 1651.9h0M1740.5 1655.4h0M1747.9 1655.8h0M1775.7 1659.1h0M1745.4 1662.3h0M1720.8 1682.4h0M1756.3 1688.1h0M1736.3 1690.3h0M1725.6 1705.3h0M1719.3 1707.5h0" stroke="#0000ff" stroke-width="5.5" stroke-linecap="round" fill="none"/>
<polygon points="1529.5,1737.3 1537.1,1732.4 1544.7,1727.5 1552.3,1722.7 1559.9,1717.8 1567.5,1712.9 1575,1708 1582.6,1703.1 1590.2,1698.2 1597.8,1693.3 1605.4,1688.4 1613,1683.5 1620.6,1678.6 1628.2,1673.7 1635.8,1668.8 1643.4,1663.8 1651,1658.9 1658.6,1653.9 1666.2,1648.9 1673.7,1643.9 1681.3,1638.8 1688.9,1633.8 1696.5,1628.6 1704.1,1623.4 1711.7,1618.2 1719.3,1612.8 1726.9,1607.4 1734.5,1601.8 1742.1,1596.1 1749.7,1590.3 1757.2,1584.4 1764.8,1578.4 1772.4,1572.3 1780,1566.2 1787.6,1560 1795.2,1553.8 1802.8,1547.5 1810.4,1541.2 1818,1534.9 1825.6,1528.6 1833.2,1522.2 1840.8,1515.9 1848.4,1509.5 1855.9,1503.1 1863.5,1496.8 1871.1,1490.4 1878.7,1484 1886.3,1477.6 1893.9,1471.2 1893.9,1505.8 1886.3,1510.7 1878.7,1515.6 1871.1,1520.5 1863.5,1525.4 1855.9,1530.3 1848.4,1535.2 1840.8,1540.1 1833.2,1545.1 1825.6,1550 1818,1555 1810.4,1560 1802.8,1564.9 1795.2,1570 1787.6,1575 1780,1580.1 1772.4,1585.3 1764.8,1590.5 1757.2,1595.8 1749.7,1601.1 1742.1,1606.6 1734.5,1612.2 1726.9,1617.9 1719.3,1623.8 1711.7,1629.7 1704.1,1635.7 1696.5,1641.8 1688.9,1648 1681.3,1654.2 1673.7,1660.5 1666.2,1666.7 1658.6,1673 1651,1679.3 1643.4,1685.7 1635.8,1692 1628.2,1698.4 1620.6,1704.7 1613,1711.1 1605.4,1717.5 1597.8,1723.9 1590.2,1730.3 1582.6,1736.7 1575,1743.1 1567.5,1749.5 1559.9,1755.9 1552.3,1762.3 1544.7,1768.7 1537.1,1775.1 1529.5,1781.5" fill="#4d4d4d" fill-opacity="0.37"/>
<line x1="1529.5" y1="1759.4" x2="1893.9" y2="1488.5" stroke="#ff0000" stroke-width="3.5"/>
<path d="M1511.4 1390.2V1799.9H1911.9" fill="none" stroke="#000" stroke-width="1.8" stroke-linecap="butt" stroke-linejoin="round"/>
<path d="M1506 1397H1511.4M1506 1480.1H1511.4M1506 1563.2H1511.4M1506 1646.3H1511.4M1506 1729.4H1511.4M1575.5 1799.9V1805.4M1640.2 1799.9V1805.4M1704.9 1799.9V1805.4M1769.6 1799.9V1805.4M1834.3 1799.9V1805.4M1899 1799.9V1805.4" fill="none" stroke="#000" stroke-width="1.75"/>
<g font-size="20">
<g text-anchor="end">
<text transform="translate(1502 1404.3) scale(1 1.038)">0.6</text>
<text transform="translate(1502 1487.4) scale(1 1.038)">0.5</text>
<text transform="translate(1502 1570.5) scale(1 1.038)">0.4</text>
<text transform="translate(1502 1653.6) scale(1 1.038)">0.3</text>
<text transform="translate(1502 1736.7) scale(1 1.038)">0.2</text>
</g><g text-anchor="middle">
<text transform="translate(1575.5 1823.5) scale(1 1.038)">10.0</text>
<text transform="translate(1640.2 1823.5) scale(1 1.038)">10.5</text>
<text transform="translate(1704.9 1823.5) scale(1 1.038)">11.0</text>
<text transform="translate(1769.6 1823.5) scale(1 1.038)">11.5</text>
<text transform="translate(1834.3 1823.5) scale(1 1.038)">12.0</text>
<text transform="translate(1899 1823.5) scale(1 1.038)">12.5</text>
<text transform="translate(1711.7 1847.1) scale(1 1.02)">S100A9 expression level</text>
<text transform="translate(1465.3 1595.1) rotate(-90) scale(1 1.02)">Monocytes</text>
</g></g>
<text transform="translate(1529.7 1413.7) scale(1 1.038)" font-size="18.75"><tspan font-style="italic">R</tspan><tspan x="17.1">=</tspan><tspan x="32.4">0.72,</tspan><tspan x="78.7" font-style="italic">p</tspan><tspan x="93.5">&lt;</tspan><tspan x="108">2.2e−16</tspan></text>
</g>
<g id="plotJ">
<path d="M138.1 2254.8h0M153.6 2254.8h0M159.5 2254.8h0M162.4 2254.8h0M164.9 2254.8h0M192.2 2254.8h0M214.1 2254.8h0M223.8 2254.8h0M231.1 2254.8h0M239.8 2254.8h0M254.8 2254.8h0M259.4 2254.8h0M266.3 2254.8h0M269.8 2254.8h0M280.8 2254.8h0M289.8 2254.8h0M296.4 2254.8h0M299.3 2254.8h0M302.2 2254.8h0M307.4 2254.8h0M310.8 2254.8h0M232.8 2252.2h0M218.6 2249h0M269.2 2249.9h0M272.9 2252.5h0M278.7 2249.3h0M289.8 2251.7h0M292.6 2248.8h0M298.1 2245.9h0M299.8 2248.2h0M298.7 2251.1h0M310.8 2251.7h0M314.9 2248.2h0M318.1 2253.4h0M186.3 2244.1h0M224.7 2235h0M251.3 2235.8h0M256.2 2234h0M269.2 2240.3h0M294.3 2240.2h0M313.7 2238.4h0M240.1 2227.6h0M256.2 2224.3h0M264.8 2228.2h0M272.9 2228.7h0M296 2227.4h0M303.9 2230.3h0M306.2 2232h0M310.2 2232h0M315.8 2228h0M281.6 2218.7h0M289.4 2222.5h0M282.9 2210.4h0M290.6 2213.8h0M297.5 2213.8h0M315.2 2210.1h0M317.8 2217.8h0M289.4 2200.2h0M313.5 2198.9h0M316.8 2199.4h0M314.3 2201.6h0M316 2201.4h0M307.9 2165.2h0M314.1 2168.1h0M322.9 2254.8h0M330.5 2254.8h0M342.4 2254.8h0M351 2254.8h0M381.3 2254.8h0M420.9 2254.8h0M457.3 2020h0M468.1 2068.9h0M487.2 2071.4h0M420.1 2073.5h0M433.6 2077.4h0M463.9 2095.9h0M402.4 2100.8h0M430.7 2106.1h0M429.8 2109h0M448.5 2105.2h0M442.9 2112.2h0M431.3 2116.1h0M434.8 2117.3h0M413.4 2118.8h0M416.5 2119.1h0M435.4 2122.6h0M474.6 2117.3h0M462.7 2124.2h0M412.6 2126.6h0M413.6 2130.9h0M415.4 2134.6h0M420 2130.3h0M448.4 2131.4h0M470.6 2130.6h0M459 2135.3h0M413.8 2141.3h0M419.8 2144.6h0M420 2148.2h0M426.1 2147.3h0M399.3 2147h0M382.4 2152.3h0M446.9 2151.7h0M463.4 2156.9h0M409.1 2159.7h0M436.3 2161.4h0M378.2 2161.7h0M333.7 2164.4h0M352.2 2166.9h0M370.1 2166.9h0M394.9 2167.7h0M414.6 2164.4h0M413.6 2169.3h0M383.6 2169.7h0M394.3 2173.7h0M333.7 2173.7h0M337.2 2176.6h0M373.3 2176.3h0M321.2 2180.3h0M353 2180.6h0M347.8 2182h0M362.6 2182.3h0M400.7 2179.4h0M403.4 2181.4h0M385.9 2180h0M381.6 2182.3h0M388.6 2185h0M354.8 2188.7h0M452.7 2188.1h0M427.9 2191.5h0M372.4 2192.2h0M359.5 2196h0M340.6 2197.9h0M370.7 2199.1h0M374.9 2199.9h0M402.4 2200.7h0M335.4 2202.9h0M385.1 2204.2h0M351.6 2204.5h0M351.8 2208.1h0M388.6 2209.5h0M377.6 2211h0M356.8 2211.2h0M356 2213.9h0M369.7 2212.7h0M374.5 2214.1h0M383.9 2212.4h0M394 2211.6h0M409.4 2212.8h0M337.7 2211.2h0M333.7 2212.4h0M326.2 2212.4h0M342.4 2215.5h0M326.2 2218.5h0M375.9 2217.8h0M369.3 2219.1h0M323.3 2223.6h0M330.2 2224h0M357.1 2221.8h0M369.7 2223.1h0M378.7 2222.8h0M393.8 2223.4h0M442.5 2221.6h0M346.2 2230.1h0M335.4 2230.3h0M338.9 2232h0M322.1 2231.2h0M325 2231.2h0M329.1 2234.3h0M333.1 2235.8h0M373.9 2233.7h0M401.3 2236.6h0M341.8 2238.7h0M425 2241.3h0M327.7 2242.4h0M370.7 2243.2h0M320.2 2245.5h0M351.2 2246.1h0M364.3 2246.5h0M366.6 2248.8h0M334.3 2247.6h0M337.4 2248.8h0M324.2 2250.5h0M359.7 2251.1h0M366.6 2251.1h0M364.3 2253.4h0M341.8 2253.4h0M492.4 1959.1h0" stroke="#0000ff" stroke-width="5.5" stroke-linecap="round" fill="none"/>
<polygon points="138.5,2299.1 145.9,2295.7 153.2,2292.2 160.6,2288.8 168,2285.4 175.4,2281.9 182.7,2278.5 190.1,2275.1 197.5,2271.6 204.8,2268.2 212.2,2264.7 219.6,2261.3 226.9,2257.8 234.3,2254.4 241.7,2250.9 249.1,2247.4 256.4,2244 263.8,2240.5 271.2,2237 278.5,2233.5 285.9,2229.9 293.3,2226.4 300.7,2222.8 308,2219.2 315.4,2215.6 322.8,2211.9 330.1,2208.1 337.5,2204.3 344.9,2200.4 352.3,2196.4 359.6,2192.3 367,2188.2 374.4,2183.9 381.7,2179.7 389.1,2175.3 396.5,2171 403.9,2166.6 411.2,2162.2 418.6,2157.7 426,2153.3 433.3,2148.8 440.7,2144.4 448.1,2139.9 455.4,2135.4 462.8,2130.9 470.2,2126.4 477.6,2121.9 484.9,2117.4 492.3,2112.9 492.3,2136.1 484.9,2139.5 477.6,2143 470.2,2146.4 462.8,2149.9 455.4,2153.4 448.1,2156.8 440.7,2160.3 433.3,2163.8 426,2167.3 418.6,2170.8 411.2,2174.3 403.9,2177.8 396.5,2181.4 389.1,2185 381.7,2188.6 374.4,2192.3 367,2196 359.6,2199.8 352.3,2203.6 344.9,2207.6 337.5,2211.6 330.1,2215.8 322.8,2220 315.4,2224.2 308,2228.5 300.7,2232.9 293.3,2237.3 285.9,2241.7 278.5,2246.1 271.2,2250.5 263.8,2255 256.4,2259.4 249.1,2263.9 241.7,2268.4 234.3,2272.9 226.9,2277.4 219.6,2281.9 212.2,2286.4 204.8,2290.9 197.5,2295.4 190.1,2299.9 182.7,2304.4 175.4,2308.9 168,2313.4 160.6,2317.9 153.2,2322.5 145.9,2327 138.5,2331.5" fill="#4d4d4d" fill-opacity="0.37"/>
<line x1="138.5" y1="2315.3" x2="492.3" y2="2124.5" stroke="#ff0000" stroke-width="3.5"/>
<path d="M120.6 1940.7V2350.0H510.2" fill="none" stroke="#000" stroke-width="1.8" stroke-linecap="butt" stroke-linejoin="round"/>
<path d="M115.2 1957.9H120.6M115.2 2056.8H120.6M115.2 2155.7H120.6M115.2 2254.6H120.6M125.8 2350.0V2355.5M223.1 2350.0V2355.5M320.4 2350.0V2355.5M417.7 2350.0V2355.5" fill="none" stroke="#000" stroke-width="1.75"/>
<g font-size="20">
<g text-anchor="end">
<text transform="translate(111.2 1965.2) scale(1 1.038)">0.12</text>
<text transform="translate(111.2 2064.1) scale(1 1.038)">0.08</text>
<text transform="translate(111.2 2163) scale(1 1.038)">0.04</text>
<text transform="translate(111.2 2261.9) scale(1 1.038)">0.00</text>
</g><g text-anchor="middle">
<text transform="translate(125.8 2373.6) scale(1 1.038)">8</text>
<text transform="translate(223.1 2373.6) scale(1 1.038)">9</text>
<text transform="translate(320.4 2373.6) scale(1 1.038)">10</text>
<text transform="translate(417.7 2373.6) scale(1 1.038)">11</text>
<text transform="translate(315.4 2397.2) scale(1 1.02)">AQP9 expression level</text>
<text transform="translate(63.5 2145.3) rotate(-90) scale(1 1.02)">Neutrophils</text>
</g></g>
<text transform="translate(138.7 1964.2) scale(1 1.038)" font-size="18.75"><tspan font-style="italic">R</tspan><tspan x="17.1">=</tspan><tspan x="32.4">0.73,</tspan><tspan x="78.7" font-style="italic">p</tspan><tspan x="93.5">&lt;</tspan><tspan x="108">2.2e−16</tspan></text>
</g>
<g id="plotK">
<path d="M842.1 2274.3h0M849.1 2274.3h0M851.4 2274.3h0M883.1 2274.3h0M887.8 2274.3h0M898.2 2274.3h0M902.8 2274.3h0M921.9 2274.3h0M928.2 2274.3h0M933.4 2274.3h0M939.8 2274.3h0M944.4 2274.3h0M950.5 2274.3h0M963.4 2274.3h0M970 2274.3h0M976.9 2274.3h0M989.4 2274.3h0M1003.3 2274.3h0M1010.8 2274.3h0M1018.7 2274.3h0M924.7 2271.7h0M918.7 2268.4h0M933.6 2268.2h0M962.9 2271.1h0M971 2264.7h0M971.9 2261.3h0M992.3 2269.7h0M996.4 2267h0M999.8 2261.8h0M998.7 2270.5h0M998.7 2272.2h0M1006.8 2270.5h0M1005.6 2272.5h0M1016 2268.2h0M1016.6 2271.1h0M903.9 2263h0M949.6 2259.2h0M935.3 2257.8h0M1012.2 2259.2h0M865.5 2253.2h0M919.7 2252h0M996.3 2249.9h0M971.5 2249.7h0M988.9 2247.4h0M963.1 2247h0M971.5 2244.5h0M969.2 2245.1h0M959.3 2245.4h0M920.4 2246h0M930.5 2245.9h0M1016 2245.1h0M1017.2 2248h0M970.2 2241.6h0M930.9 2239.9h0M933.6 2242h0M975.6 2235.7h0M988.4 2230.6h0M946.3 2230.6h0M953.9 2227.2h0M1018 2226.8h0M978.4 2216.4h0M1012.1 2215.6h0M1018.3 2213.9h0M992.9 2195.1h0M1011.5 2190.8h0M1019 2196.9h0M939.5 2180.7h0M971.8 2178.8h0M1021 2274.3h0M1032 2274.3h0M1041.3 2274.3h0M1052.3 2274.3h0M1063.4 2274.3h0M1076.2 2274.3h0M1080.8 2274.3h0M1093.4 2272.2h0M1105.3 2274.3h0M1107.6 2274.3h0M1124.7 2076.2h0M1153.3 2079.1h0M1066.6 2081h0M1148.1 2085.5h0M1181.8 2105.2h0M1076.6 2110h0M1079.3 2116.5h0M1154 2114.9h0M1133.6 2118.8h0M1134.8 2122.4h0M1093.2 2126.9h0M1119.5 2128h0M1142.6 2128h0M1067.8 2129.5h0M1085.1 2130h0M1164.8 2133.4h0M1160.8 2135.3h0M1062.8 2138h0M1104.2 2141.7h0M1102.8 2142.8h0M1146 2142h0M1156.4 2142.6h0M1082.8 2146.4h0M1135.6 2147.2h0M1097.8 2153.6h0M1038.9 2157.4h0M1119.4 2159.4h0M1130.4 2158.7h0M1086.3 2159.6h0M1084.5 2161h0M1058.2 2165.2h0M1159.6 2164.8h0M1170.6 2170.2h0M1126.7 2173.1h0M1113.6 2174.8h0M1073.1 2175.1h0M1042.1 2178h0M1031.6 2180.4h0M1030.2 2182.1h0M1134.6 2179h0M1114 2181.2h0M1089.1 2182.9h0M1104.7 2183.6h0M1043.5 2188.2h0M1062.8 2188.2h0M1098.6 2191h0M1038.9 2195.2h0M1077.4 2195.5h0M1056.6 2197.3h0M1063.6 2198.1h0M1127.6 2196.2h0M1146.3 2194.1h0M1040.5 2200.1h0M1088 2203.8h0M1156.4 2203.3h0M1114.3 2207h0M1027.1 2207.4h0M1023.3 2211.8h0M1021 2214.5h0M1125.5 2214.5h0M1126.9 2216.8h0M1025.6 2216.8h0M1029.1 2217h0M1053.7 2216h0M1071.8 2218.9h0M1073.9 2220h0M1062 2220.5h0M1041.8 2221.7h0M1090.5 2224.6h0M1057.1 2226.4h0M1053.9 2228.6h0M1066.6 2228.1h0M1068.1 2228.1h0M1024.8 2230.1h0M1032.2 2230.1h0M1082.2 2229.7h0M1087.8 2229.3h0M1063.7 2231h0M1044.1 2231.2h0M1073.2 2232.4h0M1040 2235h0M1050.2 2235.7h0M1074.5 2236.4h0M1031.7 2239.5h0M1060.8 2240.5h0M1063.1 2241.4h0M1099.9 2241h0M1159.4 2239.1h0M1020.7 2248.8h0M1057 2249.2h0M1075.7 2249.2h0M1041.4 2250.3h0M1036.6 2252h0M1040.3 2252.4h0M1028.8 2254.3h0M1086.6 2254.9h0M1026.8 2257.8h0M1087.2 2257.8h0M1021.3 2259.2h0M1114.4 2260.1h0M1076.2 2262.4h0M1055.9 2265.3h0M1092.5 2266.1h0M1051.2 2267.3h0M1072.6 2268.2h0M1033.9 2268.4h0M1027.9 2269h0M1024.4 2270.2h0M1062.2 2269.9h0M1066.6 2271.4h0M1063.7 2273.4h0M1196.6 1959.1h0M1113.5 2023.5h0" stroke="#0000ff" stroke-width="5.5" stroke-linecap="round" fill="none"/>
<polygon points="842.3,2296.2 849.7,2293.3 857.1,2290.4 864.4,2287.5 871.8,2284.6 879.2,2281.6 886.6,2278.7 894,2275.8 901.3,2272.9 908.7,2269.9 916.1,2267 923.5,2264.1 930.9,2261.1 938.3,2258.2 945.6,2255.2 953,2252.2 960.4,2249.3 967.8,2246.3 975.2,2243.2 982.5,2240.2 989.9,2237.1 997.3,2234 1004.7,2230.9 1012.1,2227.7 1019.4,2224.4 1026.8,2221.1 1034.2,2217.7 1041.6,2214.2 1049,2210.6 1056.4,2206.9 1063.7,2203.1 1071.1,2199.3 1078.5,2195.4 1085.9,2191.4 1093.3,2187.4 1100.6,2183.4 1108,2179.4 1115.4,2175.4 1122.8,2171.3 1130.2,2167.2 1137.5,2163.1 1144.9,2159 1152.3,2154.9 1159.7,2150.8 1167.1,2146.7 1174.5,2142.6 1181.8,2138.5 1189.2,2134.3 1196.6,2130.2 1196.6,2158.8 1189.2,2161.7 1181.8,2164.6 1174.5,2167.6 1167.1,2170.5 1159.7,2173.4 1152.3,2176.4 1144.9,2179.3 1137.5,2182.3 1130.2,2185.2 1122.8,2188.2 1115.4,2191.2 1108,2194.2 1100.6,2197.2 1093.3,2200.3 1085.9,2203.3 1078.5,2206.4 1071.1,2209.6 1063.7,2212.8 1056.4,2216.1 1049,2219.4 1041.6,2222.9 1034.2,2226.4 1026.8,2230 1019.4,2233.8 1012.1,2237.5 1004.7,2241.4 997.3,2245.3 989.9,2249.3 982.5,2253.2 975.2,2257.3 967.8,2261.3 960.4,2265.3 953,2269.4 945.6,2273.5 938.3,2277.6 930.9,2281.7 923.5,2285.8 916.1,2289.9 908.7,2294 901.3,2298.1 894,2302.3 886.6,2306.4 879.2,2310.5 871.8,2314.6 864.4,2318.8 857.1,2322.9 849.7,2327.1 842.3,2331.2" fill="#4d4d4d" fill-opacity="0.37"/>
<line x1="842.3" y1="2313.7" x2="1196.6" y2="2144.5" stroke="#ff0000" stroke-width="3.5"/>
<path d="M824.9 1940.7V2350.0H1214.4" fill="none" stroke="#000" stroke-width="1.8" stroke-linecap="butt" stroke-linejoin="round"/>
<path d="M819.5 1957.9H824.9M819.5 2063.2H824.9M819.5 2168.5H824.9M819.5 2273.8H824.9M826.8 2350.0V2355.5M909.6 2350.0V2355.5M992.4 2350.0V2355.5M1075.2 2350.0V2355.5M1158 2350.0V2355.5" fill="none" stroke="#000" stroke-width="1.75"/>
<g font-size="20">
<g text-anchor="end">
<text transform="translate(815.5 1965.2) scale(1 1.038)">0.12</text>
<text transform="translate(815.5 2070.5) scale(1 1.038)">0.08</text>
<text transform="translate(815.5 2175.8) scale(1 1.038)">0.04</text>
<text transform="translate(815.5 2281.1) scale(1 1.038)">0.00</text>
</g><g text-anchor="middle">
<text transform="translate(826.8 2373.6) scale(1 1.038)">10.5</text>
<text transform="translate(909.6 2373.6) scale(1 1.038)">11.0</text>
<text transform="translate(992.4 2373.6) scale(1 1.038)">11.5</text>
<text transform="translate(1075.2 2373.6) scale(1 1.038)">12.0</text>
<text transform="translate(1158 2373.6) scale(1 1.038)">12.5</text>
<text transform="translate(1019.7 2397.2) scale(1 1.02)">CD14 expression level</text>
<text transform="translate(767.5 2145.3) rotate(-90) scale(1 1.02)">Neutrophils</text>
</g></g>
<text transform="translate(842.5 1964.2) scale(1 1.038)" font-size="18.75"><tspan font-style="italic">R</tspan><tspan x="17.1">=</tspan><tspan x="32.4">0.62,</tspan><tspan x="78.7" font-style="italic">p</tspan><tspan x="93.5">&lt;</tspan><tspan x="108">2.2e−16</tspan></text>
</g>
<g id="plotL">
<path d="M1708.7 2071.1h0M1670.2 2082.6h0M1697.9 2086.7h0M1695.3 2095.9h0M1687.5 2097.5h0M1710.6 2095.7h0M1702 2109.3h0M1576.5 2116.1h0M1606.2 2121.4h0M1697.9 2118.8h0M1706.9 2116.8h0M1698.5 2127.4h0M1637.3 2135.2h0M1661.5 2132.6h0M1660.2 2135.8h0M1676 2135.8h0M1684.1 2134.7h0M1679.4 2140.2h0M1690.4 2141h0M1698.7 2140.4h0M1703.1 2144.2h0M1706.9 2143.3h0M1805.1 1959h0M1871.5 1963.8h0M1894 1979.3h0M1834.3 1987.4h0M1787 1999.9h0M1851.5 2009.6h0M1865.6 2008.2h0M1754.5 2021.8h0M1845.2 2038.8h0M1883.5 2038.2h0M1887 2041h0M1790 2051.1h0M1808.3 2056.6h0M1851.4 2055.3h0M1861.8 2055.7h0M1842.8 2068.6h0M1884 2066.4h0M1872.5 2069.7h0M1868.7 2072.3h0M1719 2075h0M1760.9 2073.9h0M1786.3 2074.9h0M1806.1 2071.9h0M1821.1 2075.4h0M1829.8 2075.2h0M1773.1 2079.3h0M1758.8 2082.6h0M1745.4 2084.9h0M1803.4 2089h0M1815.9 2089h0M1743.7 2091.9h0M1766.5 2096.8h0M1743.7 2098.1h0M1775.4 2101.9h0M1781 2101.4h0M1746.7 2104.8h0M1771.4 2104.9h0M1768.9 2106.6h0M1809.3 2108.7h0M1741.7 2110.7h0M1751.8 2112.4h0M1732.4 2115.7h0M1737.2 2115.3h0M1713.3 2118.8h0M1809.9 2121.9h0M1717.1 2130.6h0M1727.3 2131.7h0M1759.3 2131.1h0M1763.3 2134.4h0M1785.6 2133.2h0M1749.5 2136.1h0M1802.1 2135h0M1801.8 2137.5h0M1727.5 2140.2h0M1715.6 2142.8h0M1764.3 2143.8h0M1750.9 2147.9h0M1662.1 2151.2h0M1670.4 2155.5h0M1691.6 2156.6h0M1689.8 2158.9h0M1688.5 2161.8h0M1667.3 2167h0M1666.2 2169.3h0M1657.5 2169.4h0M1690.2 2170.2h0M1707.8 2170.5h0M1706.6 2175.1h0M1704.3 2176.3h0M1698.5 2178h0M1700.5 2180.9h0M1626.3 2180.6h0M1656.6 2183.8h0M1649.4 2185.6h0M1705.1 2184.1h0M1709.5 2186.3h0M1638 2187.2h0M1616.9 2188.6h0M1673.3 2188h0M1643.3 2193.2h0M1676 2193.6h0M1704.9 2193h0M1705.7 2195.7h0M1616.2 2195.4h0M1673.1 2198.8h0M1680.3 2198.3h0M1645.4 2201.1h0M1637 2203.6h0M1697.4 2203.3h0M1682.8 2205.5h0M1593.9 2205.7h0M1595.7 2208.4h0M1615.3 2208.6h0M1649.1 2208.6h0M1632.7 2210.6h0M1588.3 2215.9h0M1708.6 2216h0M1619.4 2221.1h0M1648.8 2224.2h0M1650.6 2226.7h0M1603.8 2226.1h0M1627.5 2228.7h0M1683.1 2230.6h0M1695.2 2231.6h0M1599.1 2234.3h0M1657.8 2233.9h0M1606.7 2236.3h0M1612.2 2235.3h0M1584.4 2241.7h0M1630.1 2241.1h0M1623.6 2242.7h0M1688.6 2242.1h0M1679.2 2244.7h0M1677.7 2247h0M1614.7 2245.9h0M1693.7 2247h0M1608.2 2251h0M1671.4 2254h0M1639.7 2257h0M1635.9 2258.5h0M1668.2 2258.9h0M1696.7 2258.3h0M1572.9 2261.4h0M1680.6 2268.7h0M1568.2 2276.8h0M1699.1 2279.2h0M1554.3 2280.8h0M1529.5 2293.2h0M1532.9 2303.4h0M1594.8 2331.7h0M1714.8 2154.3h0M1720.3 2154.3h0M1726 2153.7h0M1738.7 2159h0M1751.4 2158.1h0M1722.9 2160.1h0M1776.1 2165.3h0M1774.9 2169h0M1777.8 2168.7h0M1761.5 2167.9h0M1718.1 2166.8h0M1724.1 2168.5h0M1739.7 2169.7h0M1742.6 2169.7h0M1728.7 2172.8h0M1777.8 2176.5h0M1756.4 2178.8h0M1725.1 2179.3h0M1735.8 2180.5h0M1770.4 2181.3h0M1801.8 2183.4h0M1804.9 2187h0M1783.7 2186.7h0M1721.8 2189.3h0M1757 2190.5h0M1741.6 2191.7h0M1814.8 2197.6h0M1752 2199.2h0M1734.8 2199.9h0M1712.7 2202.3h0M1740.2 2204.8h0M1746 2203.4h0M1747.7 2205.7h0M1765.4 2205.3h0M1734.7 2211.1h0M1759.9 2211.8h0M1736.8 2215.3h0M1712.7 2222.1h0M1802.9 2218.5h0M1738.3 2232.4h0M1724.1 2239.2h0M1723.8 2243.5h0M1717 2260.7h0M1736 2269.4h0M1773.7 2273.3h0M1720 2277.8h0" stroke="#0000ff" stroke-width="5.5" stroke-linecap="round" fill="none"/>
<polygon points="1529.8,2261.9 1537.4,2257.8 1545,2253.7 1552.6,2249.6 1560.1,2245.5 1567.7,2241.4 1575.3,2237.2 1582.9,2233.1 1590.5,2229 1598.1,2224.8 1605.7,2220.7 1613.2,2216.5 1620.8,2212.4 1628.4,2208.2 1636,2204 1643.6,2199.8 1651.2,2195.5 1658.8,2191.3 1666.3,2187 1673.9,2182.6 1681.5,2178.2 1689.1,2173.8 1696.7,2169.2 1704.3,2164.6 1711.8,2159.8 1719.4,2155 1727,2150.1 1734.6,2145 1742.2,2139.9 1749.8,2134.7 1757.4,2129.4 1764.9,2124.1 1772.5,2118.8 1780.1,2113.4 1787.7,2108 1795.3,2102.5 1802.9,2097.1 1810.5,2091.6 1818,2086.1 1825.6,2080.6 1833.2,2075.1 1840.8,2069.6 1848.4,2064 1856,2058.5 1863.6,2053 1871.1,2047.4 1878.7,2041.9 1886.3,2036.3 1893.9,2030.8 1893.9,2068.2 1886.3,2072.3 1878.7,2076.4 1871.1,2080.5 1863.6,2084.6 1856,2088.8 1848.4,2092.9 1840.8,2097 1833.2,2101.1 1825.6,2105.3 1818,2109.4 1810.5,2113.6 1802.9,2117.8 1795.3,2122 1787.7,2126.2 1780.1,2130.4 1772.5,2134.7 1764.9,2139 1757.4,2143.3 1749.8,2147.7 1742.2,2152.2 1734.6,2156.7 1727,2161.3 1719.4,2166 1711.8,2170.9 1704.3,2175.8 1696.7,2180.8 1689.1,2185.9 1681.5,2191.1 1673.9,2196.3 1666.3,2201.7 1658.8,2207 1651.2,2212.4 1643.6,2217.8 1636,2223.2 1628.4,2228.7 1620.8,2234.2 1613.2,2239.7 1605.7,2245.2 1598.1,2250.7 1590.5,2256.2 1582.9,2261.7 1575.3,2267.2 1567.7,2272.8 1560.1,2278.3 1552.6,2283.9 1545,2289.4 1537.4,2294.9 1529.8,2300.5" fill="#4d4d4d" fill-opacity="0.37"/>
<line x1="1529.8" y1="2281.2" x2="1893.9" y2="2049.5" stroke="#ff0000" stroke-width="3.5"/>
<path d="M1511.4 1940.7V2350.0H1911.9" fill="none" stroke="#000" stroke-width="1.8" stroke-linecap="butt" stroke-linejoin="round"/>
<path d="M1506 1947.5H1511.4M1506 2031.4H1511.4M1506 2115.3H1511.4M1506 2199.2H1511.4M1506 2283.1H1511.4M1532.1 2350.0V2355.5M1617 2350.0V2355.5M1701.9 2350.0V2355.5M1786.8 2350.0V2355.5M1871.7 2350.0V2355.5" fill="none" stroke="#000" stroke-width="1.75"/>
<g font-size="20">
<g text-anchor="end">
<text transform="translate(1502 1954.8) scale(1 1.038)">0.6</text>
<text transform="translate(1502 2038.7) scale(1 1.038)">0.5</text>
<text transform="translate(1502 2122.6) scale(1 1.038)">0.4</text>
<text transform="translate(1502 2206.5) scale(1 1.038)">0.3</text>
<text transform="translate(1502 2290.4) scale(1 1.038)">0.2</text>
</g><g text-anchor="middle">
<text transform="translate(1532.1 2373.6) scale(1 1.038)">7.0</text>
<text transform="translate(1617 2373.6) scale(1 1.038)">7.5</text>
<text transform="translate(1701.9 2373.6) scale(1 1.038)">8.0</text>
<text transform="translate(1786.8 2373.6) scale(1 1.038)">8.5</text>
<text transform="translate(1871.7 2373.6) scale(1 1.038)">9.0</text>
<text transform="translate(1711.7 2397.2) scale(1 1.02)">IL1RN expression level</text>
<text transform="translate(1465.3 2145.3) rotate(-90) scale(1 1.02)">Monocytes</text>
</g></g>
<text transform="translate(1530 1964.2) scale(1 1.038)" font-size="18.75"><tspan font-style="italic">R</tspan><tspan x="17.1">=</tspan><tspan x="32.4">0.67,</tspan><tspan x="78.7" font-style="italic">p</tspan><tspan x="93.5">&lt;</tspan><tspan x="108">2.2e−16</tspan></text>
</g>
<g font-size="61.3">
<text transform="translate(41.9 47.1) scale(1 1.04)">A</text>
<text transform="translate(745.6 47.4) scale(1 1.04)">B</text>
<text transform="translate(1443.6 47.4) scale(1 1.04)">C</text>
<text transform="translate(41.5 829.4) scale(1 1.04)">D</text>
<text transform="translate(745.1 829.3) scale(1 1.04)">E</text>
<text transform="translate(1443.6 829.3) scale(1 1.04)">F</text>
<text transform="translate(41.8 1364) scale(1 1.04)">G</text>
<text transform="translate(745.1 1364.4) scale(1 1.04)">H</text>
<text transform="translate(1443.6 1364.4) scale(1 1.04)">I</text>
<text transform="translate(42.4 1915) scale(1 1.04)">J</text>
<text transform="translate(745.6 1915.2) scale(1 1.04)">K</text>
<text transform="translate(1444.1 1915.6) scale(1 1.04)">L</text>
</g>
</svg></body></html>
